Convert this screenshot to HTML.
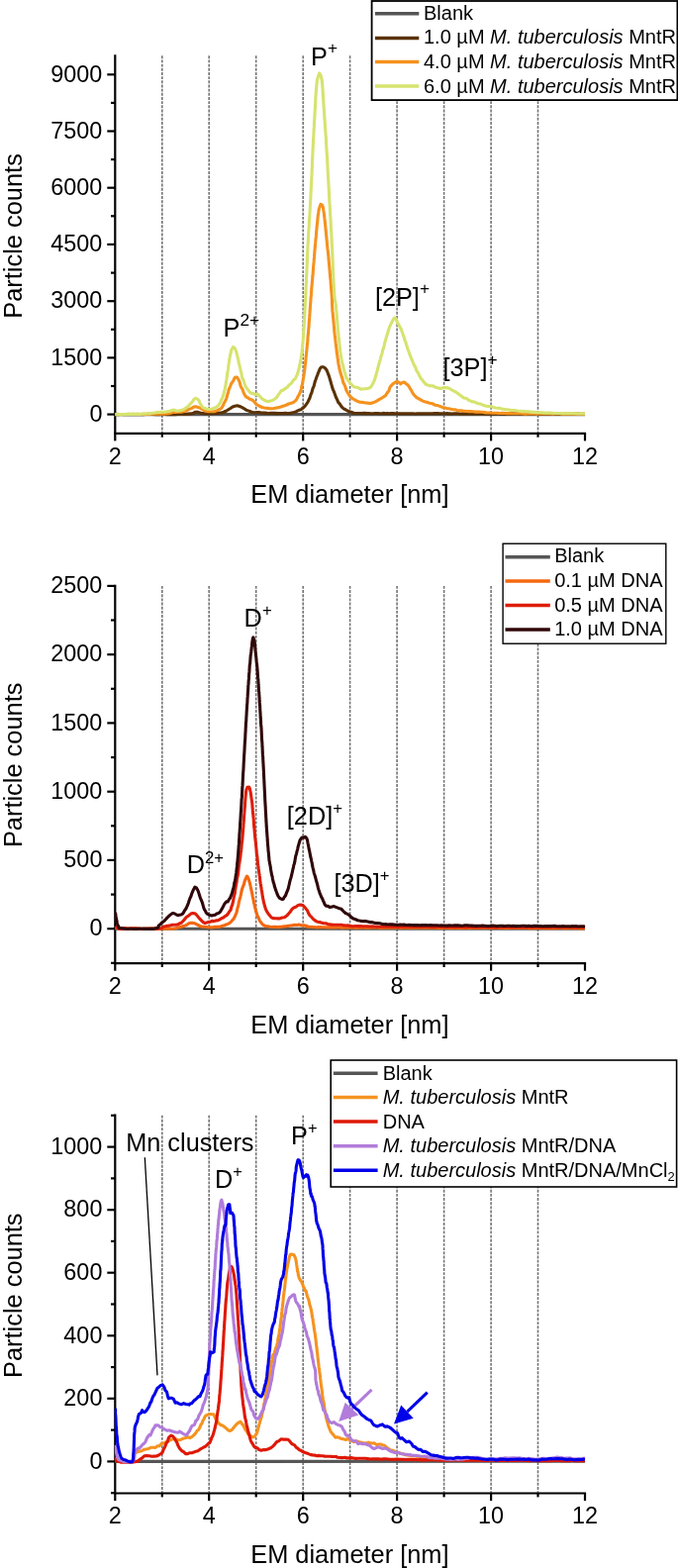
<!DOCTYPE html>
<html lang="en"><head><meta charset="utf-8"><title>nES GEMMA spectra</title>
<style>html,body{margin:0;padding:0;background:#fff}svg{display:block}text{font-family:'Liberation Sans', sans-serif;fill:#000}</style>
</head><body>
<svg width="685" height="1584" viewBox="0 0 685 1584">
<rect width="685" height="1584" fill="#fff"/>
<line x1="163.8" y1="56.3" x2="163.8" y2="437.8" stroke="#747474" stroke-width="1.6" stroke-dasharray="2.9 1.27"/>
<line x1="211.2" y1="56.3" x2="211.2" y2="437.8" stroke="#747474" stroke-width="1.6" stroke-dasharray="2.9 1.27"/>
<line x1="258.7" y1="56.3" x2="258.7" y2="437.8" stroke="#747474" stroke-width="1.6" stroke-dasharray="2.9 1.27"/>
<line x1="306.2" y1="56.3" x2="306.2" y2="437.8" stroke="#747474" stroke-width="1.6" stroke-dasharray="2.9 1.27"/>
<line x1="353.6" y1="56.3" x2="353.6" y2="437.8" stroke="#747474" stroke-width="1.6" stroke-dasharray="2.9 1.27"/>
<line x1="401.1" y1="56.3" x2="401.1" y2="437.8" stroke="#747474" stroke-width="1.6" stroke-dasharray="2.9 1.27"/>
<line x1="448.6" y1="56.3" x2="448.6" y2="437.8" stroke="#747474" stroke-width="1.6" stroke-dasharray="2.9 1.27"/>
<line x1="496.1" y1="56.3" x2="496.1" y2="437.8" stroke="#747474" stroke-width="1.6" stroke-dasharray="2.9 1.27"/>
<line x1="543.5" y1="56.3" x2="543.5" y2="437.8" stroke="#747474" stroke-width="1.6" stroke-dasharray="2.9 1.27"/>
<g stroke="#000" stroke-width="2.2" fill="none">
<line x1="116.3" y1="55.2" x2="116.3" y2="438.9"/>
<line x1="115.2" y1="437.8" x2="592.1" y2="437.8"/>
<line x1="108.3" y1="418.6" x2="116.3" y2="418.6"/>
<line x1="108.3" y1="361.4" x2="116.3" y2="361.4"/>
<line x1="108.3" y1="304.2" x2="116.3" y2="304.2"/>
<line x1="108.3" y1="246.9" x2="116.3" y2="246.9"/>
<line x1="108.3" y1="189.7" x2="116.3" y2="189.7"/>
<line x1="108.3" y1="132.5" x2="116.3" y2="132.5"/>
<line x1="108.3" y1="75.3" x2="116.3" y2="75.3"/>
<line x1="112" y1="390" x2="116.3" y2="390"/>
<line x1="112" y1="332.8" x2="116.3" y2="332.8"/>
<line x1="112" y1="275.6" x2="116.3" y2="275.6"/>
<line x1="112" y1="218.3" x2="116.3" y2="218.3"/>
<line x1="112" y1="161.1" x2="116.3" y2="161.1"/>
<line x1="112" y1="103.9" x2="116.3" y2="103.9"/>
<line x1="116.3" y1="437.8" x2="116.3" y2="445.4"/>
<line x1="163.8" y1="437.8" x2="163.8" y2="441.7"/>
<line x1="211.2" y1="437.8" x2="211.2" y2="445.4"/>
<line x1="258.7" y1="437.8" x2="258.7" y2="441.7"/>
<line x1="306.2" y1="437.8" x2="306.2" y2="445.4"/>
<line x1="353.6" y1="437.8" x2="353.6" y2="441.7"/>
<line x1="401.1" y1="437.8" x2="401.1" y2="445.4"/>
<line x1="448.6" y1="437.8" x2="448.6" y2="441.7"/>
<line x1="496.1" y1="437.8" x2="496.1" y2="445.4"/>
<line x1="543.5" y1="437.8" x2="543.5" y2="441.7"/>
<line x1="591" y1="437.8" x2="591" y2="445.4"/>
</g>
<clipPath id="cp1"><rect x="115.8" y="54.3" width="477" height="383.5"/></clipPath>
<g clip-path="url(#cp1)">
<path d="M116.3 418.6 L591 418.6" fill="none" stroke="#555555" stroke-width="3.1" stroke-linejoin="round" stroke-linecap="butt"/>
<path d="M116.3 418.6 117.4 418.6 118.6 418.6 120 418.6 121.6 418.5 123.2 418.5 125 418.7 126.9 418.7 128.9 418.7 130.9 418.6 133.1 418.6 135.3 418.6 137.6 418.5 140 418.6 142.4 418.7 144.8 418.6 147.3 418.5 149.7 418.4 152.2 418.5 154.7 418.5 157.2 418.6 159.7 418.6 162.1 418.6 164.5 418.5 166.8 418.5 169.1 418.6 171.3 418.5 173.5 418.6 175.6 418.6 177.6 418.6 179.4 418.4 181.2 418.3 182.9 418.3 184.4 418.3 185.8 418.4 187 418.3 193 417.9 195.7 417.3 196.4 416.8 196.6 416.5 197.6 416.2 199.6 416.3 201.3 416.8 203.2 417.2 205.8 417.6 207.5 417.8 209.5 417.5 211.7 417.6 214 417.6 216.3 417.5 218.5 417.5 220.5 417.4 222.1 417 224.5 416.8 226.2 416.2 227.6 415.5 229.1 414.8 231.2 413.5 233.2 412.2 235 410.9 237.3 410.2 239.6 409.8 241.4 410.3 243.4 411 245.5 412.1 247.1 413 248.8 414.3 250.6 414.9 252.5 415.5 254.2 416.2 256.1 416.6 258 416.7 260 416.6 261.8 416.6 263.7 417 265.4 417.1 267.3 417.1 270 417.4 271.6 417.5 273.6 417.4 275.7 417.4 277.9 417.4 280.2 417.6 282.5 417.5 284.6 417.5 286.4 417.5 288 417.3 290.6 417.5 292.3 417.5 293.6 417.4 295 416.9 297.1 416.4 299 415.9 300.8 414.9 302.4 414.3 304 413.8 305.5 412.4 306.7 411.7 307.9 410.5 309.1 408.9 310.2 407.4 311.2 405.8 312 403.9 312.9 402.2 313.7 399.6 314.3 397.9 314.9 396.7 315.4 394.8 316 392.5 316.6 391.2 317.2 389.8 317.8 387.4 318.4 385 319 383.5 319.6 381.8 320.2 380.1 320.7 379.1 321.5 376.5 322.2 375.3 322.9 373.2 323.6 371.9 324.9 370.8 326.3 370.7 327.9 371.4 329.5 373.1 330.2 374.3 330.9 375.9 331.6 377.9 332.4 379.9 332.9 381.7 333.5 383.7 334.1 385.6 334.7 387.9 335.3 389.9 335.9 392.2 336.6 393.9 337.3 395.4 338 397.2 338.7 399.2 339.4 401.2 340.3 402.9 341.1 404.8 342 406.9 342.9 407.5 344 409.1 345.1 410.8 346.4 412.1 347.8 413.2 349.4 414 351.1 415 352.9 415.7 354.7 416.2 356.9 416.9 357 417.1 356.1 417.1 357.6 417.3 365.1 417.5 366.2 417.5 367.4 417.3 368.7 417.4 370 417.6 371.3 417.5 372.7 417.5 374.2 417.7 375.7 417.7 377.2 417.8 378.8 417.5 380.4 417.5 382.1 417.6 383.9 417.7 385.6 417.8 387.5 417.4 389.3 417.7 391.2 417.5 393.2 417.7 395.2 417.5 397.2 417.6 399.2 417.8 401.4 417.7 403.5 417.7 405.7 417.8 407.9 417.7 410.1 417.7 412.4 417.8 414.7 417.8 417 417.7 419.4 418 421.8 417.7 424.3 417.8 426.7 417.7 429.2 417.7 431.7 417.8 434.3 417.8 436.8 417.8 439.4 417.6 442 417.6 444.7 417.8 447.3 417.7 450 417.7 451.6 417.6 453.3 417.9 455 417.9 456.7 418 458.5 417.8 460.4 417.8 462.3 417.7 464.2 417.9 466.2 418 468.1 417.8 470.2 418 472.2 418 474.3 417.9 476.4 417.7 478.6 418 480.8 418 482.9 417.9 485.2 418 487.4 418 489.7 418.1 491.9 417.9 494.2 418.1 496.5 418.2 498.8 418.2 501.2 418 503.5 417.9 505.8 418.1 508.2 418.1 510.5 418.1 512.9 418.2 515.2 418.1 517.6 417.9 520 418 522.3 417.9 524.6 418.1 527 418.2 529.3 418.1 531.6 418.1 533.9 418.2 536.2 418.2 538.5 418.3 540.7 418.2 543 418.3 545.2 418.4 547.4 418.4 549.5 418.2 551.7 418.3 553.8 418.1 555.9 418.1 557.9 418.1 559.9 418.3 561.9 418.2 563.9 418.2 565.8 418.3 567.7 418.3 569.5 418.3 571.3 418.3 573 418.5 574.7 418.4 576.4 418.4 578 418.4 579.5 418.4 581.1 418.2 582.5 418.3 583.9 418.4 585.2 418.3 586.5 418.3 587.7 418.5 588.9 418.5 590 418.4 591 418.4" fill="none" stroke="#5a3205" stroke-width="3.1" stroke-linejoin="round" stroke-linecap="butt"/>
<path d="M116.3 418.6 117.4 418.5 118.7 418.4 120.2 418.5 121.9 418.6 123.7 418.5 125.7 418.5 127.7 418.5 129.9 418.4 132.2 418.5 134.5 418.4 136.9 418.5 139.3 418.3 141.7 418.5 144.1 418.4 146.5 418.3 148.8 418.5 151.1 418.4 153.2 418.2 155.3 418.2 157.3 418.3 159.2 418.3 160.8 418.3 162.4 418.3 163.7 418.3 167.7 418 170.3 417.8 171.9 417.5 173 417.1 174 416.5 175.4 416.5 177.4 416.5 179.4 416.3 181.3 416.1 183 416.3 184.7 415.7 186.7 415.2 188.5 414.9 190.2 413.7 191.8 413.1 193.8 412.4 195.7 411.1 197.6 410.7 199.5 411.2 201.4 411.9 203.4 412.9 205.1 413.8 206.8 414.7 208.6 415.4 210.4 415.8 212.2 415.8 214 415.8 215.8 415.8 217.5 415.4 219.6 414.6 221.5 413.6 223.3 412.7 224.3 411.5 225.3 409.9 226.2 407.5 227.1 406.1 228 404.3 228.7 402.9 229.3 400.7 229.9 398.3 230.6 396.2 231.2 393.3 231.9 392 232.6 390.3 233.6 387.7 234.7 386.1 235.8 384.6 236.9 382.1 237.8 381 239.4 381.1 240.8 383.2 241.4 384.4 242.1 386 242.8 389 243.5 391.1 244.3 392.1 245.1 393.6 246 396.4 246.9 398.2 247.9 399.9 249 401.1 250.7 401.9 252.5 403.2 254.4 403.7 256 404.9 257.4 406.6 258.6 408.1 260 409 261.5 409.8 263.2 410.8 265 411.5 267 412 268.7 412.3 270.6 412.4 272.5 412.7 274.5 412.7 276.4 412.5 278.3 412.2 280.1 411.9 282 411.4 283.8 410.9 285.7 410.3 287.6 409.7 289.6 409 291.6 408 293.4 407.5 295 407.1 296.9 406.1 298.3 405 299.7 403.4 300.5 401.8 301.3 400 302.1 399 302.9 397 303.7 395.4 304.4 392.5 304.8 390.3 305.1 389.2 305.4 388.6 305.8 386.6 306.1 384.3 306.4 382.5 306.7 381 307 379.1 307.3 376.7 307.6 374.8 307.9 372.2 308.1 370.3 308.3 368.7 308.5 367.4 308.7 365.5 308.9 363.6 309.1 361 309.3 359.1 309.5 357.5 309.7 355.2 309.9 353.5 310.1 351.4 310.3 349.4 310.5 347 310.7 345.7 310.9 343.5 311 340.8 311.2 338.7 311.4 337.6 311.6 334.9 311.7 332.9 311.9 331.1 312.1 328.7 312.2 326.2 312.4 324.5 312.5 322.6 312.7 320.9 312.8 318.8 313 316.4 313.1 314.5 313.3 312.5 313.4 310.3 313.6 308.1 313.7 306 313.9 304.2 314 301.7 314.2 299.7 314.4 297.9 314.5 295.5 314.7 293.6 314.8 291.2 315 289.5 315.2 288 315.3 286.1 315.5 283.9 315.7 281.8 315.8 279.4 316 278.3 316.2 276.3 316.3 274.4 316.5 271.8 316.6 269.9 316.8 267.6 316.9 266.4 317.1 264.9 317.3 261.8 317.5 259.9 317.6 258.2 317.8 255.3 318 252.9 318.2 251.1 318.3 249.3 318.5 247 318.7 245.4 318.8 243.7 319 241.9 319.2 240 319.4 238.4 319.5 236.6 319.7 233.9 319.9 231.6 320.1 229.3 320.4 226.9 320.6 225 320.8 223 321 221 321.2 218.3 321.5 216.3 321.7 215 321.9 213.4 322.2 211.9 322.4 210.7 324 206.4 325.5 207.2 325.9 208.1 326.3 209.2 326.6 210.7 326.9 213 327.3 214.9 327.7 218.5 327.9 220.5 328.1 221.8 328.3 224 328.5 226.1 328.7 227.7 328.9 230 329.1 232.3 329.4 234.8 329.6 237.2 329.8 239.2 330 241.1 330.2 243.4 330.4 245.6 330.6 247.8 330.8 249.6 331 251.5 331.3 253.4 331.5 255.7 331.7 257.7 331.9 259.5 332 261.7 332.2 263.6 332.4 265.7 332.6 267.9 332.8 269.8 333 272.8 333.2 274.1 333.3 276.3 333.5 278.2 333.7 280.5 333.9 281.6 334.1 283.9 334.2 286.6 334.4 289 334.6 291.7 334.8 293.3 334.9 295.4 335.1 297.1 335.2 298.8 335.3 300.3 335.4 302.5 335.5 304.4 335.5 305.3 335.5 307.2 335.6 308.2 335.7 310.4 335.9 314.1 336 315 336.2 316.4 336.3 318.5 336.5 320.1 336.7 321.6 336.9 323.9 337.1 326.2 337.3 328.4 337.5 330.1 337.7 333 337.9 335.4 338.1 337 338.3 339 338.6 340.9 338.8 343.4 339 344.8 339.2 346.9 339.4 348.3 339.7 350.5 340 353.2 340.2 355.8 340.5 357.5 340.8 359.1 341.1 361.5 341.4 363.2 341.6 365.1 341.9 367.3 342.2 369 342.6 370.1 342.9 372.5 343.4 374.5 344 376.8 344.6 378.6 345.2 380.7 345.8 382.1 346.4 385 347 387.1 347.6 387.8 348.4 389.6 349.1 391.5 349.9 394.2 350.7 395.7 351.5 397.1 352.3 398.5 353.6 400.3 354.9 401.4 356.4 402.9 358.1 403.6 359.7 404.6 361.6 405.5 363.5 406.2 365.5 406.4 367.4 406.6 369.3 407 371.3 407.1 373.2 407.5 375.1 407.4 376.8 406.8 378.7 406.1 380.5 405.2 382.1 404.1 383.8 403.1 385.2 402.4 386.7 401.5 388.2 400.4 389.5 399.6 390.8 397.5 391.9 395.9 392.8 395.1 393.7 392.1 394.5 390.3 395.5 389.3 396.9 387.9 398.5 386.8 400 385.7 401.3 385.4 403.2 386.3 404.8 387.9 406.5 386.4 408.3 386 409.8 387.2 411.4 388.4 413.1 390.2 414.2 392.3 415.3 393.9 416.5 396.2 417.7 398.2 419 399.7 420.6 401.3 422.3 402.5 424.1 403.2 426.3 404.6 428 405.5 429.9 405.9 431.9 406.5 433.9 407.2 436 407.5 438 408.3 439.9 409.3 441.8 409.5 443.6 410.1 445.5 410.8 447.5 411.7 449.6 412.1 451.5 412.6 453.5 412.8 455.5 413.3 457.6 413.7 459.7 413.8 461.9 414.5 464.2 414.9 466 414.7 467.9 415.1 469.7 415.3 471.7 415.5 473.6 415.6 475.6 415.5 477.6 415.7 479.7 416.1 481.8 416.1 483.7 416.1 485.6 416.2 487.4 416.3 489.3 416.6 491.3 416.9 493.3 417 495.3 417 497.5 417.3 499.8 417.2 502.2 417.2 503.8 417.4 505.4 417.5 507 417.4 508.6 417.4 510.2 417.5 511.8 417.6 513.5 417.5 515.2 417.6 517.1 417.7 519.1 417.8 521.2 417.8 523.5 417.8 525.9 417.8 528.6 418 531.4 418.1 532.9 417.9 534.6 418 536.4 417.9 538.3 417.9 540.3 418 542.3 418.1 544.5 418 546.7 418 548.9 418 551.2 417.9 553.6 418 555.9 418 558.3 418.1 560.7 418 563 417.9 565.4 418 567.7 418.1 570 418.1 572.2 418.2 574.4 418.1 576.5 418.1 578.6 418.2 580.5 418 582.4 418.1 584.2 418.1 585.8 418.3 587.3 418.2 588.7 418.2 589.9 418.1 591 418.2" fill="none" stroke="#f5921e" stroke-width="3.1" stroke-linejoin="round" stroke-linecap="butt"/>
<path d="M116.3 418.6 117.5 418.6 119 418.7 120.7 418.6 122.7 418.5 124.8 418.5 127.1 418.6 129.5 418.4 131.9 418.2 134.3 418.4 136.7 418.4 139 418.4 141.2 418.5 143.2 418.3 145 418.1 147.6 418 150 417.8 152.4 417.7 154.6 417.2 156.7 417 158.6 416.4 160.4 416.5 162.1 416.4 163.7 416.3 166.6 416.2 168.8 415.8 170.4 415.5 171.9 415.2 173.9 414.4 175.4 414 177 414.7 178.9 415.1 180.7 415 182.7 414.6 184.7 414 186.1 413.3 187.6 412.3 189 411.3 190.6 409.9 192 408.2 193.5 406.8 195 404.9 196.4 402.9 197.6 402.4 199.6 403.1 201.1 404.9 202.2 407.4 203.3 409.5 204.6 411.3 206.4 412.3 208.4 413 210.4 413.2 212.4 413.5 214.3 413.1 216.3 412.3 217.8 411.6 219.3 410.7 220.7 409.6 222.1 407.6 222.8 406.2 223.6 404.2 224.3 402.7 224.9 401.4 225.6 399.7 226.2 397.1 226.8 394.6 227.2 393.6 227.5 391.4 227.9 389.6 228.2 388.1 228.5 385.6 228.9 383.7 229.2 381.1 229.5 379.2 229.8 377.3 230 375.5 230.3 374.1 230.6 372.4 230.9 369.4 231.2 367 231.5 365.4 231.8 363.1 232 361.7 232.3 360.2 232.6 358.5 233.3 356 233.9 353.1 234.7 352.1 235.4 350.7 236.9 351.3 238.5 354.7 239 356.3 239.5 358.5 240 360.5 240.5 362.4 241 364.9 241.5 367.6 242 369.3 242.5 371.3 243 373.7 243.4 375.5 243.9 376.9 244.4 380.1 244.9 382.3 245.5 382.7 246.2 384.9 246.9 387.2 247.7 389.3 248.5 391 249.3 392.2 250.2 393.2 251.6 395.2 253.1 396.9 254.7 397.3 256 397.8 258.1 398.4 260 397.9 261.5 399.4 263.1 401 264.7 402.7 266.2 403.7 267.7 404.6 269.3 405.4 271.2 405.6 273.3 405.1 275.2 404.4 276.9 403.6 278.4 402.3 279.9 401 281.4 398.5 282.9 396.6 284.5 394.2 285.9 394.4 287.3 393.1 288.8 392.1 290.4 391.1 291.8 389.2 293.3 388.1 294.8 386.6 296.2 384.3 297.4 383.3 298.5 382.3 299.4 380 300.1 378.9 300.9 376.6 301.3 375 301.8 373.3 302.3 371.8 302.7 369.3 303.2 367.4 303.6 364.9 304 362.7 304.4 359.9 304.6 358.3 304.9 357.3 305.1 355.4 305.3 353.3 305.5 351.1 305.6 349.3 305.8 347.7 306 346.1 306.2 343.9 306.3 341.7 306.5 339.2 306.7 337.2 306.8 335 306.9 333.1 307 331.8 307.2 330 307.3 328 307.4 326 307.5 324.2 307.6 322.7 307.7 320.7 307.8 318.1 307.9 316.5 308 314.4 308.1 311.8 308.2 310 308.3 307.5 308.4 304.9 308.6 302.8 308.7 300.5 308.8 298.2 308.9 296.7 309 294.6 309 293.7 309.1 291.2 309.2 289.5 309.3 287.1 309.4 285.3 309.5 283.9 309.6 280.4 309.7 278.5 309.8 276.9 309.9 274.7 310 272.3 310.1 271 310.2 268.5 310.3 265.5 310.4 264 310.4 261.3 310.5 259.8 310.6 257.5 310.7 255.4 310.8 253.8 310.9 251.5 311 248.9 311.1 246.7 311.2 245.7 311.3 244 311.4 241.6 311.5 239.8 311.6 237.7 311.7 235.6 311.9 232.6 312 231 312.1 229.7 312.2 227.9 312.3 226 312.4 223.1 312.5 221.8 312.6 220.3 312.7 219.3 312.9 216.5 313 214.5 313.1 212.8 313.2 211.2 313.3 209 313.4 207.4 313.5 204.9 313.6 203 313.8 200.7 313.9 198.7 314 196.2 314.1 194 314.2 193 314.3 191.1 314.4 188.8 314.5 187 314.6 185.4 314.7 182.8 314.8 180.8 314.9 179 315 177 315.1 174.6 315.2 171.8 315.3 170.6 315.4 168.5 315.4 166.1 315.5 163.9 315.6 161.9 315.7 159.6 315.8 157.2 315.9 155.1 316 153.1 316.1 151 316.2 148.8 316.3 147.3 316.4 144.8 316.5 143.3 316.6 141 316.7 139.4 316.8 138.1 316.9 136 317 133.3 317.1 131.1 317.3 128.9 317.4 126 317.5 123.9 317.6 122 317.8 119.6 317.9 117.5 318 115.5 318.1 113.4 318.2 111.4 318.4 109.2 318.5 106.8 318.6 104.8 318.7 102.9 318.8 101 318.9 99.2 319 97 319.1 95.6 319.2 94.4 319.3 92.6 319.4 91.5 319.5 90.5 319.9 85.9 320.1 84 320.4 81.2 320.6 80.6 320.9 79.1 321.4 77.2 322 76.1 322.7 73.9 323.3 74.6 323.9 76.1 324.6 77.9 325.2 81.4 325.4 81.9 325.5 84 325.7 85.8 325.8 87.3 325.9 88.8 326.1 91.1 326.2 92.9 326.3 95.2 326.5 97.4 326.6 99.2 326.8 102.4 327 105.6 327.1 107.3 327.2 108.5 327.3 110.3 327.5 112.3 327.6 114.1 327.7 116.3 327.8 118.6 328 119.6 328.1 121 328.2 123.8 328.4 126.4 328.5 128.4 328.7 130.4 328.8 132 328.9 134 329.1 136.6 329.2 138.3 329.4 139.9 329.5 142.2 329.6 145.5 329.8 147.8 329.9 148.9 330 150.6 330.1 152.9 330.2 154.6 330.4 157.2 330.5 158.9 330.6 160.4 330.7 163.1 330.8 164.7 330.9 166.7 331 168.7 331.1 170.6 331.2 172.7 331.3 174.4 331.4 175.9 331.5 177.6 331.6 179.9 331.7 182.2 331.9 184.4 332 186.5 332.1 188.7 332.2 190.6 332.3 192.2 332.4 194.1 332.5 195.6 332.6 198.1 332.7 200.5 332.8 202.5 332.9 204.2 333.1 206.1 333.2 208.4 333.3 210.1 333.4 212.1 333.5 214.1 333.6 215.9 333.7 218.1 333.9 219.5 334 221.3 334.1 223.2 334.2 225.1 334.3 227.8 334.4 230.2 334.5 231.6 334.7 233.6 334.8 236 334.9 238 335 240.2 335.1 241.5 335.2 243.3 335.3 245.7 335.4 248.1 335.5 249.8 335.6 251.4 335.7 253.6 335.8 255.8 335.9 257.8 336 260.8 336.1 262.6 336.2 264.8 336.3 267.8 336.4 269.9 336.4 271.7 336.5 273.5 336.6 275.8 336.7 278.5 336.8 280.3 336.9 282.4 337 284 337.1 285.9 337.2 287.5 337.3 289.3 337.4 291.3 337.4 292 337.5 293.5 337.6 295.1 337.9 298.7 338.1 301.2 338.4 303.1 338.6 304.7 338.9 305.3 339.1 306.5 339.4 308.2 339.6 310.7 339.7 312.2 339.9 313.8 340 315.4 340.2 317.7 340.4 319.6 340.5 322 340.7 324.4 340.9 326.5 341.1 328.7 341.2 330.5 341.4 333.2 341.6 334.7 341.8 336 342 338.6 342.2 340.7 342.5 342.6 342.7 344.9 342.9 347.2 343.1 348.8 343.3 350.9 343.6 353.5 343.8 355.2 344.1 356.7 344.3 358.4 344.6 360.1 345 362.5 345.5 365.1 345.9 367.1 346.4 368.3 346.9 370.8 347.3 372.7 347.8 374.9 348.3 376.3 349.1 378.8 349.8 381.6 350.6 382.6 351.5 383.8 352.3 385.2 353.6 386.8 355 388.3 356.9 390.3 358.5 391 360.4 391.2 362.4 391.9 364.4 393.1 366.3 393 368.5 392.8 370.7 392.6 372.7 392.2 374.5 391.2 375.6 389.7 376.5 387.9 377.3 386.1 378.2 384.4 379.1 381.8 379.6 379.7 380.1 378.1 380.6 376.4 381.2 374.4 381.7 372.2 382.3 369.8 382.8 367.9 383.4 365.6 383.9 364.3 384.5 362.4 385 359.8 385.5 358.5 386.1 356.6 386.6 353.6 387.2 352.5 387.7 350.6 388.2 348.9 388.8 346 389.3 344.3 389.8 342.6 390.3 340.8 390.8 339.2 391.5 337.1 392.3 334.2 393 332 393.6 330.1 394.3 328.7 394.9 327.3 395.5 326.3 396.8 323.6 397.9 321.7 399 320.9 399.9 321.6 400.8 323.8 401.6 325.9 402.5 327.5 403.2 328.5 403.9 330.1 404.7 331.1 405.8 334 406.3 335.6 406.8 336.6 407.3 338.5 407.9 339.8 408.6 342.3 409.2 344.2 409.9 345.6 410.5 348.2 411.2 349.9 411.8 352.5 412.5 353.9 413.1 355.6 413.9 358 414.7 359.9 415.6 362.2 416.4 364 417.3 366.3 418.1 368.1 418.9 370 419.7 370.7 420.4 373.3 421.5 375.5 422.5 376.7 423.4 378.9 424.4 380.8 425.3 382.5 426.3 383.2 427.7 385.5 429 386.7 430.4 388.5 432.1 388.9 433.7 389.6 435.5 389.8 437.5 389.9 439.3 390.9 440.9 391.4 443.1 392.1 444.9 392.4 446.7 392.1 448.6 391.5 450.5 391.6 452.6 391.9 454.3 392.4 456.1 393.7 457.9 394.8 459.9 395.6 461.5 396.8 463.2 397.9 464.9 399.2 466.7 400.6 468.6 401.9 470.2 402.2 471.8 402.7 473.5 404.3 475.2 404.9 477 405.8 478.8 405.9 480.6 406.6 482.5 407.5 484.4 407.7 486.3 408.4 488.4 409.3 490.5 410 492.4 410.5 494.4 410.5 496.4 410.7 498.5 411.4 500.6 412 502.8 412.3 505.1 412.4 506.9 412.9 508.7 413.3 510.5 413.6 512.4 413.7 514.3 414 516.2 414.4 518.3 414.5 520.4 414.5 522.6 415 524.3 415.2 526.2 415.4 528 415.6 530 415.6 531.9 415.8 533.9 415.9 536 416.1 538 416.4 540 416.4 542 416.7 544 416.8 546 416.8 548 416.9 549.9 417.1 551.9 417 553.8 417.1 555.8 417 557.8 417.2 559.7 417.5 561.7 417.5 563.6 417.5 565.5 417.5 567.4 417.6 569.3 417.5 571.4 417.7 573.6 417.7 575.9 417.6 578.2 417.7 580.5 417.7 582.7 417.9 584.8 418 586.7 417.8 588.4 417.9 589.8 418 591 417.9" fill="none" stroke="#d6e36e" stroke-width="3.1" stroke-linejoin="round" stroke-linecap="butt"/>
</g>
<g font-size="23.4" text-anchor="end">
<text x="103.4" y="425.8">0</text>
<text x="103.4" y="368.6">1500</text>
<text x="103.4" y="311.4">3000</text>
<text x="103.4" y="254.1">4500</text>
<text x="103.4" y="196.9">6000</text>
<text x="103.4" y="139.7">7500</text>
<text x="103.4" y="82.5">9000</text>
</g>
<g font-size="23.4" text-anchor="middle">
<text x="116.3" y="468.5">2</text>
<text x="211.2" y="468.5">4</text>
<text x="306.2" y="468.5">6</text>
<text x="401.1" y="468.5">8</text>
<text x="496.1" y="468.5">10</text>
<text x="591" y="468.5">12</text>
</g>
<text x="353.4" y="508.2" font-size="25.4" text-anchor="middle">EM diameter [nm]</text>
<text transform="translate(21.8 321.7) rotate(-90)" font-size="25.4">Particle counts</text>
<text x="314.1" y="65.5" font-size="25.3">P<tspan font-size="17.3" dy="-11.1">+</tspan></text>
<text x="225.6" y="339.7" font-size="25.3">P<tspan font-size="17.3" dy="-11.1">2+</tspan></text>
<text x="378.9" y="308.5" font-size="25.3">[2P]<tspan font-size="17.3" dy="-11.1">+</tspan></text>
<text x="447.5" y="379.8" font-size="25.3">[3P]<tspan font-size="17.3" dy="-11.1">+</tspan></text>
<rect x="375.6" y="1" width="308.8" height="100.1" fill="#fff" stroke="#000" stroke-width="1.8"/>
<line x1="378.9" y1="13.8" x2="423.3" y2="13.8" stroke="#555555" stroke-width="3.5"/>
<text x="428" y="19.9" font-size="20">Blank</text>
<line x1="378.9" y1="38.4" x2="423.3" y2="38.4" stroke="#5a3205" stroke-width="3.5"/>
<text x="428" y="44.4" font-size="20">1.0 µM <tspan font-style="italic">M. tuberculosis</tspan> MntR</text>
<line x1="378.9" y1="62.4" x2="423.3" y2="62.4" stroke="#f5921e" stroke-width="3.5"/>
<text x="428" y="68.9" font-size="20">4.0 µM <tspan font-style="italic">M. tuberculosis</tspan> MntR</text>
<line x1="378.9" y1="87" x2="423.3" y2="87" stroke="#d6e36e" stroke-width="3.5"/>
<text x="428" y="93.8" font-size="20">6.0 µM <tspan font-style="italic">M. tuberculosis</tspan> MntR</text>
<line x1="163.8" y1="591.9" x2="163.8" y2="973.1" stroke="#747474" stroke-width="1.6" stroke-dasharray="2.9 1.27"/>
<line x1="211.2" y1="591.9" x2="211.2" y2="973.1" stroke="#747474" stroke-width="1.6" stroke-dasharray="2.9 1.27"/>
<line x1="258.7" y1="591.9" x2="258.7" y2="973.1" stroke="#747474" stroke-width="1.6" stroke-dasharray="2.9 1.27"/>
<line x1="306.2" y1="591.9" x2="306.2" y2="973.1" stroke="#747474" stroke-width="1.6" stroke-dasharray="2.9 1.27"/>
<line x1="353.6" y1="591.9" x2="353.6" y2="973.1" stroke="#747474" stroke-width="1.6" stroke-dasharray="2.9 1.27"/>
<line x1="401.1" y1="591.9" x2="401.1" y2="973.1" stroke="#747474" stroke-width="1.6" stroke-dasharray="2.9 1.27"/>
<line x1="448.6" y1="591.9" x2="448.6" y2="973.1" stroke="#747474" stroke-width="1.6" stroke-dasharray="2.9 1.27"/>
<line x1="496.1" y1="591.9" x2="496.1" y2="973.1" stroke="#747474" stroke-width="1.6" stroke-dasharray="2.9 1.27"/>
<line x1="543.5" y1="591.9" x2="543.5" y2="973.1" stroke="#747474" stroke-width="1.6" stroke-dasharray="2.9 1.27"/>
<g stroke="#000" stroke-width="2.2" fill="none">
<line x1="116.3" y1="590.8" x2="116.3" y2="974.2"/>
<line x1="115.2" y1="973.1" x2="592.1" y2="973.1"/>
<line x1="108.3" y1="938.2" x2="116.3" y2="938.2"/>
<line x1="108.3" y1="868.9" x2="116.3" y2="868.9"/>
<line x1="108.3" y1="799.7" x2="116.3" y2="799.7"/>
<line x1="108.3" y1="730.4" x2="116.3" y2="730.4"/>
<line x1="108.3" y1="661.2" x2="116.3" y2="661.2"/>
<line x1="108.3" y1="591.9" x2="116.3" y2="591.9"/>
<line x1="112" y1="972.8" x2="116.3" y2="972.8"/>
<line x1="112" y1="903.6" x2="116.3" y2="903.6"/>
<line x1="112" y1="834.3" x2="116.3" y2="834.3"/>
<line x1="112" y1="765.1" x2="116.3" y2="765.1"/>
<line x1="112" y1="695.8" x2="116.3" y2="695.8"/>
<line x1="112" y1="626.5" x2="116.3" y2="626.5"/>
<line x1="116.3" y1="973.1" x2="116.3" y2="980.7"/>
<line x1="163.8" y1="973.1" x2="163.8" y2="977"/>
<line x1="211.2" y1="973.1" x2="211.2" y2="980.7"/>
<line x1="258.7" y1="973.1" x2="258.7" y2="977"/>
<line x1="306.2" y1="973.1" x2="306.2" y2="980.7"/>
<line x1="353.6" y1="973.1" x2="353.6" y2="977"/>
<line x1="401.1" y1="973.1" x2="401.1" y2="980.7"/>
<line x1="448.6" y1="973.1" x2="448.6" y2="977"/>
<line x1="496.1" y1="973.1" x2="496.1" y2="980.7"/>
<line x1="543.5" y1="973.1" x2="543.5" y2="977"/>
<line x1="591" y1="973.1" x2="591" y2="980.7"/>
</g>
<clipPath id="cp2"><rect x="115.8" y="589.9" width="477" height="383.2"/></clipPath>
<g clip-path="url(#cp2)">
<path d="M116.3 938.2 L591 938.2" fill="none" stroke="#555555" stroke-width="3.1" stroke-linejoin="round" stroke-linecap="butt"/>
<path d="M116.5 937 119 937.9 120.2 937.9 121.5 938.1 123 938 124.7 937.9 126.6 938.1 128.5 938 130.6 938.2 132.8 938.1 135.1 938.1 137.4 938.1 139.8 938.1 142.2 938.3 144.7 938.3 147.1 938.3 149.6 938.3 152 938.1 154.4 938.1 156.7 938.1 158.9 938.1 161.1 938.2 163.1 938.1 165.1 938.1 166.9 938 168.5 937.9 170 938.1 171.3 938.3 176.1 938 178.6 937.5 179.7 936.9 180.3 936.8 181.5 936.7 183.6 936 185.5 935.4 187.2 934.9 188.7 934.3 190.9 932.8 192.8 932.2 194.8 932.4 196.9 932.8 198.4 933.6 200 934.5 202 935.5 203.8 936.1 205.7 936.2 207.8 936.3 210.1 936.8 212.1 936.8 214.2 936.9 216.3 936.4 218.4 936.4 220.4 936.4 222.6 936.1 224.7 935.3 226.7 934.7 228.5 934 230.2 933.4 231.8 932.6 233.3 931.4 234.7 929.6 235.7 928.7 236.5 927.2 237.3 925.9 238 924.1 238.8 922.3 239.3 920.7 239.8 918.1 240.3 916.2 240.8 914.7 241.3 911.7 241.8 909.6 242.3 907.9 242.8 906.1 243.4 903.6 244 900.4 244.6 898 245.2 896.4 245.8 894.7 246.4 893.8 246.9 891.1 247.8 888.6 248.6 886.9 249.4 885.2 250.3 886 251.3 888.6 252.3 891.8 252.7 893.3 253.1 895.3 253.5 896.8 253.9 899.2 254.4 901 254.8 903.1 255.2 905.6 255.7 907.4 256.1 909.4 256.6 912.1 257 913.7 257.4 915.4 257.9 917.6 258.3 919.2 258.8 921.4 259.3 922.3 259.8 924.3 260.7 926.3 261.6 928.1 262.6 930.5 263.6 931.6 264.7 933.2 266.4 934.6 268.3 935.6 271 935.8 272.6 936.2 274.5 936.5 276.5 936.4 278.6 936.3 280.8 936.6 282.8 936.4 284.6 936.2 286.9 935.9 288.9 935.7 290.9 935.4 292.7 935 294.5 935 296.5 934.5 298.4 934.3 300.2 934.5 302 934.1 303.8 934.5 305.5 935 307.4 934.9 309.4 935.2 310.1 935.5 309.8 935.6 310.2 936.2 312.8 936.3 319.4 936.7 320.5 936.9 321.7 936.6 322.9 936.7 324.1 936.5 325.3 936.8 326.6 936.8 327.9 936.8 329.2 936.8 330.6 936.9 332 936.9 333.4 936.9 334.9 936.8 336.4 936.9 338 936.8 339.6 936.9 341.3 936.7 343 936.8 344.7 937.2 346.5 937.1 348.4 936.9 350.3 937 352.3 936.9 354.3 936.8 356.4 936.9 358.6 937.1 360.8 937.1 363.1 937.1 365.5 937 367.9 936.9 370.4 937.2 373 937.2 375.7 937 378.4 936.8 381.3 936.9 384.2 937.4 387.2 937.1 390.2 937.1 393.4 937.2 396.7 937.2 400 937.2 401.4 937 402.9 937 404.4 937.4 406 937.2 407.6 937.3 409.3 937.1 410.9 937.1 412.7 937.3 414.4 937.4 416.2 937.2 418 937.3 419.9 937.3 421.8 937.2 423.7 937.3 425.7 937.2 427.7 937.1 429.7 937.2 431.7 937 433.8 937.2 435.9 937.2 438 937.1 440.1 937.2 442.3 937.4 444.5 937.3 446.7 937.5 448.9 937.2 451.1 937.1 453.4 937.5 455.7 937.4 457.9 937.5 460.2 937.3 462.6 937.4 464.9 937.4 467.2 937.5 469.6 937.4 471.9 937.5 474.3 937.4 476.7 937.2 479 937.2 481.4 937.5 483.8 937.4 486.2 937.3 488.6 937.3 491 937.3 493.4 937.3 495.8 937.3 498.2 937.3 500.5 937.3 502.9 937.3 505.3 937.4 507.7 937.4 510 937.4 512.4 937.5 514.7 937.5 517 937.2 519.4 937.3 521.7 937.4 524 937.5 526.2 937.3 528.5 937.3 530.8 937.4 533 937.4 535.2 937.6 537.4 937.5 539.6 937.6 541.7 937.4 543.8 937.2 545.9 937.6 548 937.6 550.1 937.6 552.1 937.6 554.1 937.6 556.1 937.4 558 937.6 559.9 937.5 561.8 937.6 563.6 937.6 565.4 937.3 567.2 937.3 568.9 937.6 570.6 937.6 572.3 937.5 573.9 937.6 575.5 937.5 577.1 937.5 578.6 937.6 580 937.6 581.4 937.8 582.8 937.6 584.1 937.8 585.4 937.9 586.6 937.9 587.8 937.8 588.9 937.7 590 937.6 591 937.6" fill="none" stroke="#f4680f" stroke-width="3.1" stroke-linejoin="round" stroke-linecap="butt"/>
<path d="M116.5 936 117.5 936.8 119.2 937.6 119.9 938.1 120.9 938.2 125 938.1 126.3 937.9 127.9 938.1 129.7 938.1 131.6 938 133.8 938 136 937.9 138.4 938.2 140.8 938.3 143.2 938.5 145.6 938.3 147.9 938.2 150.2 938.4 152.3 938.3 154.3 938.2 156.1 938.2 157.7 938.1 159 938.2 163.1 937.7 164 937.1 165.2 936.1 167.1 935.7 169.2 935.2 171.3 935.1 173.4 934.4 175.5 934.3 177.6 934.2 179.7 933.9 181.5 932.9 183.5 932 185.1 930.3 186.6 928.6 188 926.8 189.4 925.8 190.7 924.9 192.8 923.1 194.8 922.5 196.9 922.7 198.9 924.6 199.9 925.9 200.9 927.1 202 928.4 203.5 929.9 205.2 931.6 207.1 932.5 208.7 932.1 210.5 931.6 212.3 931.2 214.2 930.4 216.2 930.6 218.4 929.9 220.5 929.7 222.4 928.6 224.1 927.5 225.7 927 227.2 925.7 228.5 925 230.1 923.5 231.4 921.4 232.6 919.8 233.3 918.5 233.9 915.6 234.5 914.8 235.1 912.5 235.7 909.9 236.1 907.1 236.5 905.4 236.9 903.7 237.3 902.3 237.6 899.4 238 897.1 238.4 894.4 238.8 892.7 239.1 891.3 239.4 888.6 239.7 886.7 240.1 885.2 240.4 883.6 240.7 881.2 241 878.6 241.3 876.1 241.5 874 241.8 872.3 242.1 870.4 242.4 868.3 242.7 866.9 243 864.5 243.2 861.8 243.4 860.7 243.7 858.9 243.9 856.6 244.1 854.1 244.3 851.8 244.5 850.3 244.7 849.5 244.9 847.1 245.1 844.3 245.3 842 245.4 840.6 245.6 839 245.7 837.2 245.9 835.4 246 832.4 246.2 830.7 246.4 827.8 246.5 826 246.7 823.7 246.9 821.4 247 819.6 247.2 817.2 247.3 815.6 247.5 813.9 247.6 812 247.8 808.6 248 805.8 248.2 803.6 248.4 801.8 248.5 800.2 248.6 800 248.8 798.2 249.9 795.3 251.6 795.1 252.3 796.4 253 799.6 253.3 801.2 253.5 802.2 253.8 804.7 254 806.2 254.4 809 254.7 811 254.9 813 255 815.1 255.2 816.9 255.3 818.9 255.5 820.8 255.7 822.8 255.9 824.1 256.1 826.5 256.3 828.2 256.4 831.5 256.6 834 256.8 835.9 257 837.7 257.2 839.8 257.4 842.8 257.6 845.1 257.8 846.4 258 848.7 258.2 849.8 258.4 851.2 258.6 853.8 258.8 855.8 259 857.8 259.2 860.1 259.4 863.3 259.7 864.1 259.9 865.8 260.1 867.8 260.3 869.6 260.5 872 260.8 874.5 261 875.4 261.2 877.5 261.5 879.5 261.7 881.7 262 882.9 262.2 884.5 262.5 886.1 262.7 889.1 263 891.1 263.2 892.8 263.5 893.5 263.8 896.3 264.2 898.6 264.6 900.5 264.9 902.7 265.3 905.6 265.7 907.7 266.1 909.4 266.4 911.3 266.8 912.6 267.2 914.2 267.9 916.8 268.7 919 269.4 920.4 270.2 921.7 271 922.9 272.5 924.7 274.2 926.9 275.9 927.6 278.3 927.7 280.9 927.9 282.9 927.9 285 927 287.1 926.8 288.7 925.9 290.2 924.6 291.8 922.8 293.3 921 294.9 918.7 296.5 917.2 298 916.5 299.5 915.8 301.3 914.4 303 914 304.5 914.1 306.4 915 308.2 916.9 309.3 918.3 310.5 919.7 311.7 922.6 313.1 924.9 314.5 926.1 315.9 927.9 317.5 929.3 319.4 930.6 321.1 931.3 323 931.6 325 932.2 327.1 932.8 329.3 932.8 331.2 933.5 333.1 933.9 335 934.1 337.1 934.3 339.3 934.2 341.7 934.2 343.3 934.2 344.8 934.3 346.3 934.6 347.8 934.8 349.5 935 351.4 934.8 353.6 935.4 356.1 935.7 359.1 935.5 360.4 935.5 361.6 935.6 362.5 935.6 363.4 935.6 364.2 935.6 364.9 935.6 365.7 935.7 366.6 935.8 367.5 935.8 368.7 935.7 370.1 935.8 371.7 935.9 373.7 936 376 935.9 378.7 936 381.8 936.2 385.5 936.2 389.7 936.1 394.5 936.1 400 936.1 401.2 936.3 402.5 936.5 403.9 936.3 405.2 936.1 406.7 936.3 408.2 936.3 409.7 936.1 411.3 936.1 412.9 936.2 414.6 936.4 416.3 936.2 418 936.1 419.8 936.3 421.6 936.2 423.5 936.3 425.4 936.4 427.3 936.3 429.3 936.2 431.2 936.3 433.3 936.3 435.3 936.4 437.4 936.3 439.5 936.5 441.7 936.2 443.8 936.3 446 936.4 448.2 936.5 450.5 936.4 452.7 936.5 455 936.4 457.3 936.5 459.6 936.7 462 936.5 464.3 936.5 466.7 936.4 469 936.6 471.4 936.7 473.8 936.5 476.2 936.3 478.6 936.5 481 936.7 483.5 936.7 485.9 936.7 488.3 936.3 490.8 936.4 493.2 936.7 495.6 936.4 498.1 936.6 500.5 936.9 502.9 936.7 505.3 936.7 507.8 936.6 510.2 936.4 512.6 936.5 515 936.6 517.4 936.6 519.7 936.7 522.1 936.6 524.4 936.6 526.8 936.7 529.1 936.7 531.4 936.9 533.7 936.8 535.9 936.7 538.2 936.6 540.4 936.6 542.6 936.8 544.7 936.8 546.9 936.5 549 936.6 551.1 936.7 553.2 936.6 555.2 936.8 557.2 936.6 559.2 936.7 561.1 936.8 563 936.6 564.9 936.7 566.7 936.7 568.5 936.8 570.2 936.7 571.9 936.8 573.6 936.6 575.2 936.5 576.8 936.8 578.4 936.9 579.8 936.8 581.3 936.7 582.7 936.9 584 936.6 585.3 936.6 586.6 936.8 587.8 936.9 588.9 936.7 590 936.5 591 936.8" fill="none" stroke="#de1e08" stroke-width="3.1" stroke-linejoin="round" stroke-linecap="butt"/>
<path d="M116.5 921.7 116.7 922.9 117 925.3 117.4 928.1 117.8 929.3 118.3 932.3 118.9 934.6 119.8 935.8 120.2 937.5 124.3 937.9 125.6 938.2 127.2 938.3 129 938.5 131.1 938.3 133.3 938.3 135.6 938.5 138 938.4 140.5 938.3 142.9 938.3 145.3 938.4 147.6 938.3 149.8 938.4 151.8 938.4 153.7 938.3 155.2 938.4 156.5 938.1 159.9 937.1 160.1 935.2 161.4 934.3 162.9 932.7 164.4 931.6 165.9 930.4 167.4 928.8 168.9 927.1 170.4 925.7 171.8 924.4 174.1 922.6 176.1 922.7 177.9 923.8 179.7 924.7 181.3 924.3 183 923.9 184.6 923.1 185.7 921.4 186.7 919.5 187.7 918.2 188.7 916.2 189.5 914.3 190.3 912.3 191.2 909.6 192 907.3 192.8 905.8 193.6 903.2 194.5 900.9 195.3 899.1 196.2 897.4 196.9 896.1 198.4 896.8 199.9 899.4 200.5 901.1 201.2 903.3 201.9 905.4 202.6 907.6 203.3 909.1 204 910.8 204.8 913.3 205.6 916.2 206.5 918.9 207.3 919.9 208.1 921.7 209.4 923.2 210.8 924 212.2 924.6 213.8 925 215.6 924.6 217.3 924.2 219 922.9 220.7 922.4 222.4 921.2 223.4 919.5 224.4 917.9 225.5 915.8 226.5 913.7 227.5 912.3 228.8 910.8 230.1 910.9 231.4 908.6 232.6 907 233.2 905.3 233.9 903.6 234.5 902.1 235.1 899.6 235.6 898.1 236.2 895.9 236.7 892.5 237 891.6 237.3 890.4 237.6 888.7 237.9 887.6 238.1 885.2 238.4 883.6 238.7 881.9 239 879.3 239.2 877.8 239.5 874.7 239.7 871.9 240 870 240.1 868.1 240.3 866.7 240.4 864.5 240.6 863.3 240.7 861.3 240.8 860 241 857.6 241.1 856.2 241.2 854.3 241.4 852.4 241.5 850.4 241.6 848.4 241.8 845.8 241.9 843 242 841.8 242.2 839.6 242.3 837.5 242.5 835.8 242.6 832.8 242.7 830.8 242.9 828.8 243 826.5 243.1 825.2 243.2 823.4 243.3 821.2 243.5 819.2 243.6 818 243.7 815.7 243.8 814.1 243.9 812.3 244 809.3 244.1 807.4 244.3 805.9 244.4 804.2 244.5 802.4 244.6 800.5 244.7 798.6 244.8 796 245 793.9 245.1 792.3 245.2 789.9 245.3 788.3 245.4 785.4 245.5 783.9 245.6 781.9 245.8 779 245.9 778 246 776.1 246.1 774 246.2 771.5 246.3 769.6 246.4 768.5 246.5 765.8 246.7 762.4 246.8 761.1 246.9 759.4 247 757.7 247.1 755.8 247.2 753.5 247.3 751.5 247.4 750.2 247.6 747.5 247.7 746.5 247.8 744 247.9 741.4 248 740.1 248.1 738.3 248.2 735.7 248.3 734.3 248.4 731.5 248.5 729.6 248.7 728.7 248.8 726.5 248.9 724 249 722.8 249.1 721.3 249.2 718.9 249.4 715.9 249.5 714 249.6 712.4 249.8 710.5 249.9 708.8 250 705.9 250.2 703.4 250.3 701.4 250.4 699.9 250.6 697.1 250.7 695.7 250.8 692.3 251 691.2 251.1 689.2 251.2 687.5 251.4 685.9 251.5 683.3 251.6 681.8 251.7 680.3 251.9 678.9 252 676.7 252.1 675 252.3 671.6 252.6 670.6 252.8 667.5 253 664.8 253.2 662.1 253.4 661 253.7 658.9 253.8 657.8 254 656.2 254.2 654.3 254.4 653 254.8 648.8 255.2 646.2 255.5 644.6 255.9 643.8 256.2 644.7 256.6 646 256.9 648.6 257.3 649.5 257.7 653.5 257.9 655.2 258 656.9 258.2 658.9 258.4 660.8 258.6 662.5 258.8 664.1 259 666.5 259.2 668.7 259.4 670 259.7 672.6 259.9 674.8 260.1 677.2 260.3 680.3 260.5 683 260.6 684.7 260.8 686 260.9 687.9 261 689.4 261.1 691.7 261.3 693.8 261.4 696.2 261.5 698.1 261.7 699.1 261.8 700.9 261.9 702.8 262.1 705.3 262.2 708.2 262.3 709.9 262.4 710.7 262.6 712.7 262.7 715 262.8 717.8 263 720 263.1 722.2 263.2 725 263.4 726.3 263.5 728 263.6 731 263.7 732.6 263.8 733.8 264 735.1 264.1 737.1 264.2 738.7 264.3 741.6 264.4 743.9 264.5 746.3 264.6 748 264.8 749.6 264.9 751.6 265 754.7 265.1 755.5 265.2 757.9 265.3 760.1 265.4 762.4 265.6 764 265.7 766.3 265.8 768.5 265.9 770.1 266 771.8 266.1 773.8 266.2 775.5 266.3 777.6 266.4 779.5 266.5 781.5 266.6 784.2 266.7 786.5 266.8 787.9 266.9 790.2 267 792.3 267.1 794.5 267.2 796.4 267.3 798.4 267.4 800.2 267.5 802 267.6 804.6 267.7 807 267.8 808.8 267.9 810.6 268 812.4 268.1 814 268.2 815.3 268.3 818 268.4 820 268.5 821.4 268.6 823 268.7 825.6 268.8 826.4 268.9 829.7 269.1 832 269.2 834.7 269.3 835.9 269.5 837.9 269.6 840 269.8 842.3 269.9 844.3 270.1 846.1 270.2 848.7 270.3 850.1 270.5 851.9 270.6 854.2 270.8 855.6 270.9 857.2 271 859.1 271.2 860.5 271.3 861.4 271.6 864.6 271.8 867 272 869.7 272.3 870.4 272.5 872.4 272.8 873.4 273.1 875 273.4 876.9 273.7 879 274.1 881.3 274.5 883.8 275 885.1 275.4 887.6 275.9 889.8 276.3 891.6 276.8 892.7 277.2 894.8 277.9 897.1 278.7 899.4 279.4 901.2 280.1 903.2 280.9 905 282.3 907.1 283.7 907.9 285.1 908.5 286.2 908.2 287.3 906.1 288.4 904.9 289.6 901.6 290.1 900.5 290.7 899.2 291.2 897.8 291.7 895.5 292.3 893 292.8 890.7 293.4 888.3 293.9 886.9 294.5 884.5 295 882.3 295.4 880.7 295.9 878.3 296.4 876.1 296.8 874 297.3 872.7 297.8 870.7 298.2 867.9 298.7 865.1 299.1 863.8 299.5 862.3 300.1 859.8 300.7 857.6 301.2 855.1 301.7 853.5 302.2 851.8 302.7 850 303.2 848.4 305.1 846.1 306.9 846.3 308.4 845.3 309.9 847.1 310.3 848.1 310.6 849.2 311 851.6 311.4 853.5 311.8 855.5 312.2 858 312.6 859.4 313.1 862 313.5 864.1 313.9 866.3 314.3 867.5 314.8 870.1 315.3 872.3 315.7 874.9 316.2 877.1 316.7 879 317.2 881.6 317.6 882.9 318.1 884.3 318.7 886.5 319.2 888.4 319.8 890.8 320.3 892.1 320.9 894.6 321.4 896.9 322 899 322.5 900.3 323.1 902.4 323.9 904.1 324.7 906.2 325.6 907.6 326.4 909.6 327.2 911.3 328 913.6 329.7 915.3 331.4 915.4 333 916.4 334.8 916.3 336.7 915.6 338.6 916.1 340.7 916.9 342.9 917.7 344.4 918 346 919.5 347.6 921.2 349.1 922.5 350.7 923.1 352.2 924 353.8 925.4 355.3 926.9 357.2 928.1 359.2 928.8 361.5 929.7 363.2 930.1 365.1 930.5 367.1 930.6 369.3 930.6 371.5 931.1 373.4 931.6 375.3 931.6 377.3 932 379.4 932.5 381.6 932.6 383.9 932.8 385.5 933.4 386.9 933.5 388.2 933.7 389.6 933.5 391.3 934 393.5 933.7 396.3 933.9 400 934.3 401.4 934.5 402.9 934.2 404.4 934.1 406.1 934.3 407.8 934.1 409.7 934.4 411.5 934.5 413.5 934.4 415.5 934.5 417.6 934.6 419.7 934.6 421.8 934.6 424 934.8 426.2 934.6 428.4 934.6 430.6 934.5 432.8 934.8 435 934.6 437.3 934.7 439.5 934.7 441.6 934.7 443.8 935 445.9 934.8 448 935 450 935 452 935.1 453.9 934.9 455.7 935 457.6 935 459.3 934.9 461.1 934.9 462.8 934.9 464.6 935 466.3 935.2 468 935 469.8 934.7 471.5 934.7 473.3 934.9 475.2 935 477 935.1 479 935.2 481 935.4 483 935.3 485.2 935.3 487.4 935.1 489.7 935.3 492.1 935.5 494.6 935.5 497.2 935.1 500 935.3 501.6 935.6 503.2 935.5 504.9 935.2 506.7 935.2 508.6 935.4 510.5 935.5 512.5 935.3 514.5 935.2 516.6 935.5 518.7 935.3 520.9 935.6 523.1 935.5 525.3 935.5 527.6 935.3 529.9 935.3 532.2 935.6 534.5 935.3 536.9 935.7 539.2 935.4 541.6 935.3 543.9 935.5 546.3 935.6 548.6 935.7 551 935.6 553.3 935.6 555.6 935.6 557.8 935.5 560.1 935.3 562.3 935.7 564.5 935.7 566.6 935.7 568.7 935.6 570.7 935.7 572.7 935.7 574.6 935.7 576.5 935.9 578.3 935.5 580.1 935.7 581.7 935.6 583.3 935.7 584.8 936 586.2 935.7 587.6 935.7 588.8 935.7 590 935.9 591 935.8" fill="none" stroke="#30070a" stroke-width="3.1" stroke-linejoin="round" stroke-linecap="butt"/>
</g>
<g font-size="23.4" text-anchor="end">
<text x="103.4" y="945.4">0</text>
<text x="103.4" y="876.1">500</text>
<text x="103.4" y="806.9">1000</text>
<text x="103.4" y="737.6">1500</text>
<text x="103.4" y="668.4">2000</text>
<text x="103.4" y="599.1">2500</text>
</g>
<g font-size="23.4" text-anchor="middle">
<text x="116.3" y="1003.8">2</text>
<text x="211.2" y="1003.8">4</text>
<text x="306.2" y="1003.8">6</text>
<text x="401.1" y="1003.8">8</text>
<text x="496.1" y="1003.8">10</text>
<text x="591" y="1003.8">12</text>
</g>
<text x="353.4" y="1043.5" font-size="25.4" text-anchor="middle">EM diameter [nm]</text>
<text transform="translate(21.8 856.1) rotate(-90)" font-size="25.4">Particle counts</text>
<text x="246.6" y="633.1" font-size="25.3">D<tspan font-size="16.7" dy="-10.8">+</tspan></text>
<text x="188.8" y="882.2" font-size="25.3">D<tspan font-size="16.7" dy="-10.2">2+</tspan></text>
<text x="289.8" y="832.8" font-size="25.3">[2D]<tspan font-size="16.7" dy="-11.1">+</tspan></text>
<text x="337.4" y="901.2" font-size="25.3">[3D]<tspan font-size="16.7" dy="-11.1">+</tspan></text>
<rect x="508.1" y="549.2" width="164.7" height="101" fill="#fff" stroke="#000" stroke-width="1.4"/>
<line x1="510.5" y1="562.7" x2="555.8" y2="562.7" stroke="#555555" stroke-width="3.5"/>
<text x="560.2" y="568.4" font-size="20">Blank</text>
<line x1="510.5" y1="587" x2="555.8" y2="587" stroke="#f4680f" stroke-width="3.5"/>
<text x="560.2" y="593.2" font-size="20">0.1 µM DNA</text>
<line x1="510.5" y1="611.6" x2="555.8" y2="611.6" stroke="#de1e08" stroke-width="3.5"/>
<text x="560.2" y="617.8" font-size="20">0.5 µM DNA</text>
<line x1="510.5" y1="635.9" x2="555.8" y2="635.9" stroke="#30070a" stroke-width="3.5"/>
<text x="560.2" y="642.1" font-size="20">1.0 µM DNA</text>
<line x1="163.8" y1="1126.7" x2="163.8" y2="1508.5" stroke="#747474" stroke-width="1.6" stroke-dasharray="2.9 1.27"/>
<line x1="211.2" y1="1126.7" x2="211.2" y2="1508.5" stroke="#747474" stroke-width="1.6" stroke-dasharray="2.9 1.27"/>
<line x1="258.7" y1="1126.7" x2="258.7" y2="1508.5" stroke="#747474" stroke-width="1.6" stroke-dasharray="2.9 1.27"/>
<line x1="306.2" y1="1126.7" x2="306.2" y2="1508.5" stroke="#747474" stroke-width="1.6" stroke-dasharray="2.9 1.27"/>
<line x1="353.6" y1="1126.7" x2="353.6" y2="1508.5" stroke="#747474" stroke-width="1.6" stroke-dasharray="2.9 1.27"/>
<line x1="401.1" y1="1126.7" x2="401.1" y2="1508.5" stroke="#747474" stroke-width="1.6" stroke-dasharray="2.9 1.27"/>
<line x1="448.6" y1="1126.7" x2="448.6" y2="1508.5" stroke="#747474" stroke-width="1.6" stroke-dasharray="2.9 1.27"/>
<line x1="496.1" y1="1126.7" x2="496.1" y2="1508.5" stroke="#747474" stroke-width="1.6" stroke-dasharray="2.9 1.27"/>
<line x1="543.5" y1="1126.7" x2="543.5" y2="1508.5" stroke="#747474" stroke-width="1.6" stroke-dasharray="2.9 1.27"/>
<g stroke="#000" stroke-width="2.2" fill="none">
<line x1="116.3" y1="1125.6" x2="116.3" y2="1509.6"/>
<line x1="115.2" y1="1508.5" x2="592.1" y2="1508.5"/>
<line x1="108.3" y1="1476.4" x2="116.3" y2="1476.4"/>
<line x1="108.3" y1="1412.8" x2="116.3" y2="1412.8"/>
<line x1="108.3" y1="1349.3" x2="116.3" y2="1349.3"/>
<line x1="108.3" y1="1285.7" x2="116.3" y2="1285.7"/>
<line x1="108.3" y1="1222.2" x2="116.3" y2="1222.2"/>
<line x1="108.3" y1="1158.6" x2="116.3" y2="1158.6"/>
<line x1="112" y1="1508.2" x2="116.3" y2="1508.2"/>
<line x1="112" y1="1444.6" x2="116.3" y2="1444.6"/>
<line x1="112" y1="1381.1" x2="116.3" y2="1381.1"/>
<line x1="112" y1="1317.5" x2="116.3" y2="1317.5"/>
<line x1="112" y1="1253.9" x2="116.3" y2="1253.9"/>
<line x1="112" y1="1190.4" x2="116.3" y2="1190.4"/>
<line x1="112" y1="1126.8" x2="116.3" y2="1126.8"/>
<line x1="116.3" y1="1508.5" x2="116.3" y2="1516.1"/>
<line x1="163.8" y1="1508.5" x2="163.8" y2="1512.4"/>
<line x1="211.2" y1="1508.5" x2="211.2" y2="1516.1"/>
<line x1="258.7" y1="1508.5" x2="258.7" y2="1512.4"/>
<line x1="306.2" y1="1508.5" x2="306.2" y2="1516.1"/>
<line x1="353.6" y1="1508.5" x2="353.6" y2="1512.4"/>
<line x1="401.1" y1="1508.5" x2="401.1" y2="1516.1"/>
<line x1="448.6" y1="1508.5" x2="448.6" y2="1512.4"/>
<line x1="496.1" y1="1508.5" x2="496.1" y2="1516.1"/>
<line x1="543.5" y1="1508.5" x2="543.5" y2="1512.4"/>
<line x1="591" y1="1508.5" x2="591" y2="1516.1"/>
</g>
<clipPath id="cp3"><rect x="115.8" y="1124.7" width="477" height="383.8"/></clipPath>
<g clip-path="url(#cp3)">
<line x1="375.5" y1="1403.8" x2="355.5" y2="1423.1" stroke="#b17cda" stroke-width="3"/>
<polygon points="342.2,1436 348.7,1416.7 362.3,1429.5" fill="#b17cda"/>
<line x1="431.7" y1="1406.6" x2="411.4" y2="1426.1" stroke="#0202e8" stroke-width="3"/>
<polygon points="398,1438.4 405.2,1419.4 417.7,1432.7" fill="#0202e8"/>
<path d="M116.3 1476.4 L591 1476.2" fill="none" stroke="#555555" stroke-width="3.1" stroke-linejoin="round" stroke-linecap="butt"/>
<path d="M134.5 1470 136.6 1467.7 138.2 1467 140.3 1466.2 142.5 1466 144.7 1464.8 146.7 1464.1 148.8 1463.7 150.8 1463.2 152.9 1462.2 155 1462.2 157.1 1462.4 159.2 1460.7 161.1 1460.8 163.2 1458.2 165.1 1458.3 167.2 1457 169.1 1456.2 171.2 1455.2 173.3 1454.3 175.4 1453.4 177.5 1453.5 179.5 1454.6 181.6 1454.8 183.6 1453.8 185.7 1453.1 187.8 1452.6 189.9 1451.7 191.8 1452.6 194 1451.4 196 1449.6 197.9 1447.5 199.2 1445.3 200.5 1444.4 201.7 1442.4 203 1439.1 204 1438 205 1435.1 206 1433.7 207 1431.3 208.1 1429.9 210.2 1429.1 212.4 1428.6 214.2 1428.8 215.9 1428.9 217.3 1432 218.2 1433.9 219.2 1435.1 220.3 1437.1 221.4 1438.2 223 1439.6 224.7 1439.9 226.5 1441.3 228.5 1442.9 230.6 1444.9 232.6 1445.4 234.4 1444.4 236.2 1442 237.7 1440.3 239.5 1438.2 241.1 1437.1 242.9 1436.2 244.6 1438.7 245.6 1439.5 246.6 1441.6 247.8 1444.1 249.3 1446 251.1 1449.2 252.7 1450.1 254.9 1451.6 256.7 1451.6 257.9 1450.1 259.1 1448.3 259.7 1447.4 260.3 1444.8 261 1442.5 261.6 1439.9 262.3 1437.7 262.8 1435.7 263.4 1433.8 263.9 1432.3 264.4 1430.5 265 1427.7 265.5 1425.1 266 1423.3 266.4 1420.5 266.9 1417.5 267.4 1416.2 267.8 1413.1 268.3 1411.4 268.7 1408.5 269.1 1407.5 269.5 1404.6 269.9 1403.2 270.3 1402 270.7 1398.5 271.2 1396.6 271.5 1394 271.8 1391 272.2 1390 272.5 1388.1 272.9 1385.1 273.3 1381.3 273.7 1379.7 274.1 1377.7 274.5 1375.3 274.9 1373.3 275.3 1370.6 276 1368.5 276.6 1368 277.4 1366.5 278.1 1363.7 278.8 1361.4 279.5 1359.8 280.1 1357.8 280.5 1356 280.8 1353.1 281.2 1351.5 281.5 1349.7 281.9 1348.3 282.2 1346.2 282.5 1343.5 282.9 1341.5 283.2 1338.4 283.5 1336.9 283.8 1333.8 284.1 1331.6 284.4 1329.9 284.6 1326.9 284.9 1324.4 285.1 1321.6 285.4 1320.2 285.6 1318.1 285.9 1315.6 286.1 1313.7 286.3 1310.2 286.6 1308.6 286.8 1306.9 287.1 1304.5 287.3 1303 287.6 1301.3 287.9 1297.8 288.2 1294.8 288.5 1292.5 288.8 1290.6 289 1288.7 289.3 1285.8 289.6 1284.4 289.9 1281.7 290.2 1280.5 290.5 1278.9 291.1 1275.5 291.7 1273.4 292.3 1270 293 1267.9 293.7 1267.1 295.3 1267.2 297 1267.7 298.5 1271.1 298.9 1272.4 299.3 1274.9 299.7 1277.8 300 1279.6 300.3 1281.7 300.6 1284.2 301 1284.7 301.4 1288 302.2 1290.9 303.1 1292.7 304 1294 304.9 1295.4 305.8 1297.5 306.6 1300.1 307.4 1301.4 308.2 1303.7 309 1303.8 309.8 1306.7 310.4 1309.2 311 1311.1 311.6 1312.2 312.2 1314.5 312.8 1318 313.4 1319.4 314 1321.6 314.6 1324.2 315 1326.4 315.3 1329.1 315.7 1331.3 316 1332 316.4 1335.5 316.7 1337.2 317 1339.1 317.4 1342.6 317.7 1344.3 318 1345.6 318.3 1347.9 318.6 1350.2 318.9 1352.2 319.2 1354.7 319.5 1357.7 319.7 1359.8 320 1361 320.3 1365.1 320.5 1366 320.8 1368.2 321 1370.5 321.3 1373.1 321.5 1374.8 321.8 1377.2 322.1 1380.4 322.3 1381.8 322.6 1383 322.8 1385.7 323.1 1387.5 323.4 1389.7 323.6 1392.2 323.9 1394.5 324.1 1396.3 324.4 1398.9 324.6 1400.6 324.9 1401.8 325.2 1405.1 325.5 1407.1 325.8 1410 326.1 1411.5 326.4 1414 326.8 1416.2 327.1 1416.6 327.4 1418.7 327.7 1421.2 328.1 1424.6 328.6 1425.7 329 1429 329.5 1431.9 330 1433.9 330.5 1436 331.1 1437.5 331.6 1439.5 332.2 1441.4 333.2 1444 334.2 1446.3 335.2 1447.7 336.3 1448.8 337.3 1450.1 338.9 1452.1 340.6 1451.8 342.4 1452.2 344.5 1453.3 346.8 1453.8 349.5 1454.4 351.3 1453.5 353.4 1454.8 355.5 1455.7 357.6 1456.6 359.7 1455.7 361.8 1456.3 363.8 1457.1 365.9 1457.4 367.9 1457.9 370 1458.1 372.1 1457.1 374.2 1457.9 376.3 1458 378.3 1457.9 380.2 1459.4 382.4 1459 384.5 1459 386.5 1459.7 388.4 1460.2 390.2 1461.9 391.9 1463 393.6 1464.4 395.5 1465.1 397.6 1465.6 399.8 1466.9 402.1 1467.4 404.7 1468.1 406.5 1468.7 408.5 1469.2 410.5 1470 412.6 1470 414.8 1470.5 417 1470.9 418.9 1470.9 420.9 1471.2 422.9 1471.8 424.9 1472.3 427 1472.6 429.1 1472.9 431.3 1473 433.5 1473.1 435.8 1473.4 438.1 1473.4 440.4 1473.3 442.8 1473.6 445.2 1473.6 447.6 1473.8 449 1473.9 449.3 1474 449.3 1474.1 449.4 1474.1 450.5 1474.1 453 1474 457.6 1474.3 465 1474.3 466.3 1474.4 467.7 1473.9 469.2 1474.1 470.8 1474.4 472.5 1474 474.3 1474.2 476.2 1474.5 478.1 1474.5 480.1 1474.2 482.2 1474.5 484.4 1474.6 486.6 1474.4 488.9 1474.6 491.2 1474.6 493.6 1474.6 496.1 1474.5 498.5 1474.7 501.1 1474.6 503.6 1474.8 506.2 1474.8 508.8 1474.6 511.5 1474.6 514.2 1474.8 516.9 1474.7 519.6 1474.7 522.3 1474.8 525 1474.7 527.7 1474.3 530.4 1474.6 533.2 1474.8 535.9 1474.8 538.6 1474.6 541.3 1474.9 543.9 1474.8 546.6 1474.7 549.2 1474.7 551.8 1474.8 554.3 1474.7 556.8 1474.6 559.3 1475.1 561.7 1475.2 564.1 1475.1 566.4 1475.2 568.6 1475.1 570.8 1474.7 573 1475 575 1475.2 577 1475.1 578.9 1474.6 580.8 1475.1 582.5 1475.3 584.2 1475 585.7 1475 587.2 1475.1 588.6 1475 589.8 1475.2 591 1475" fill="none" stroke="#f5931f" stroke-width="3.1" stroke-linejoin="round" stroke-linecap="butt"/>
<path d="M116.5 1472.2 116.2 1474.3 118.2 1476.1 119.8 1476.4 121.9 1477.1 124.5 1477 127.2 1477.1 129.9 1477.1 132.5 1477.1 134.8 1476.9 136.6 1476.7 139.3 1476.1 140.6 1474.9 141.7 1474.1 143.8 1472.7 145.8 1470.8 148.2 1470.6 150.9 1470.8 153.2 1471.2 155.7 1471.1 158 1471 159.9 1470.2 161.5 1469.2 163.1 1468.2 164.2 1467.1 165.2 1464.2 166.2 1462.5 167.2 1460.3 168.2 1457.6 169.3 1456.4 170.3 1452.6 171.3 1451.4 172.9 1450.1 174.4 1450.7 175.8 1452.2 177.4 1455.2 178.1 1455.8 179 1457.8 179.8 1460.2 180.7 1461.8 181.5 1463.2 182.9 1464.8 184.2 1466 185.6 1466.7 187.5 1468.6 189.7 1468.6 191.6 1467.7 193.7 1467.7 195.8 1467.1 197.9 1466.2 199.9 1465.7 202 1464.2 204.1 1463 206.1 1461.9 208.1 1460.8 209.5 1459.3 210.8 1458 212 1457.5 213.2 1454.5 214 1451.8 214.7 1451.1 215.4 1449.1 216 1446.8 216.7 1444.4 217.3 1442 217.7 1440 218.2 1438.2 218.6 1436 219 1433.8 219.3 1430.6 219.7 1428.1 220.1 1425.3 220.4 1423.4 220.6 1421.8 220.9 1419.2 221.1 1417.6 221.3 1416.8 221.5 1414.4 221.7 1411 221.9 1409 222.1 1407.4 222.3 1404.9 222.5 1402.6 222.7 1400.6 222.8 1398.5 223 1395.7 223.1 1394.4 223.3 1392.3 223.4 1390.2 223.6 1387.8 223.7 1385.1 223.9 1382.9 224 1381.1 224.2 1378.7 224.3 1375.6 224.5 1374.9 224.6 1372.1 224.8 1369.7 224.9 1368 225 1364.8 225.2 1364 225.3 1361.5 225.4 1359.7 225.5 1357.1 225.7 1355.1 225.8 1352.9 225.9 1350.6 226.1 1347.5 226.2 1345.1 226.3 1343.7 226.5 1342.4 226.6 1339.5 226.7 1337.6 226.8 1335.5 227 1333.6 227.1 1331.9 227.3 1328.3 227.4 1326.3 227.6 1323.9 227.8 1321.3 227.9 1318.6 228.1 1316.2 228.3 1313.8 228.5 1311.5 228.6 1311 228.8 1309.1 229 1306.2 229.1 1304.4 229.3 1301.9 229.6 1297.7 229.9 1295.1 230.2 1293.7 230.6 1292.3 230.9 1289.8 231.2 1287.3 231.5 1285.8 232.2 1282.2 233 1279.6 233.7 1279.3 234.4 1280.3 235.2 1282.5 235.9 1285.6 236.3 1287.3 236.7 1289.8 237 1292.7 237.4 1294.5 237.8 1297.8 238.1 1298.9 238.3 1301 238.5 1302.4 238.6 1304.5 238.8 1306.6 239 1308.9 239.1 1311.6 239.3 1313.6 239.5 1316.1 239.6 1318.2 239.7 1320.3 239.8 1321.8 240 1324.4 240.1 1327.1 240.2 1327.9 240.4 1330.4 240.5 1333.3 240.7 1334.3 240.8 1337.1 240.9 1339.6 241.1 1341.3 241.2 1344.7 241.3 1346.9 241.5 1348.7 241.6 1351.3 241.7 1353.7 241.8 1355.9 241.9 1358.1 242 1360.2 242.1 1361.7 242.2 1364.1 242.3 1366.8 242.4 1367.8 242.5 1372 242.6 1373.8 242.7 1375.3 242.8 1377 242.9 1380 243 1382.3 243 1383.9 243.1 1385.8 243.2 1387.4 243.3 1389.1 243.5 1392.3 243.6 1394.7 243.7 1397.5 243.8 1399.4 244 1401.3 244.1 1403.3 244.2 1405.6 244.4 1407.3 244.6 1409.1 244.8 1411 245 1412.8 245.3 1415.2 245.5 1417.9 245.8 1420.1 246.1 1421.9 246.4 1423.4 246.7 1425.3 247 1428.1 247.4 1431.2 247.9 1433.5 248.4 1434.9 248.8 1437.5 249.3 1440.1 249.8 1441.8 250.3 1444.2 250.9 1446.8 251.6 1448.9 252.2 1450.9 252.9 1453.9 253.5 1455.8 254.6 1457.6 255.6 1459.2 256.7 1461.3 258.2 1462.4 259.9 1462.7 261.8 1464.6 263.9 1465.2 266.2 1464.6 268.7 1464.6 271.1 1463.7 273.5 1462.8 275.6 1461.3 277.6 1459.1 278.9 1457.3 280.2 1456.2 281.6 1455.8 283.9 1453.8 286.4 1454.1 288.8 1454.1 291.2 1454.2 292.8 1456 294.4 1458.1 296 1459.2 297.6 1459.9 299.2 1462.1 300.8 1463.1 302.4 1464.7 304 1465.2 305.7 1466.5 307.7 1467.3 309.8 1467.9 312.1 1468.9 314 1469.6 316 1469.9 318.1 1470.1 320.1 1470.7 322.1 1470.4 324 1470.7 326 1470.8 328.1 1471.1 330.5 1471.2 333 1471.2 335.5 1471.4 337.8 1471.5 339.6 1471.5 341.2 1472.3 345.4 1472.6 346.9 1472.5 348.6 1472.3 350.5 1472.9 352.5 1472.9 354.7 1472.6 356.9 1473 359.3 1473.4 361.7 1473.2 364.2 1473.3 366.7 1473.2 369.1 1473.2 371.5 1473.6 373.9 1474.1 376.1 1473.8 378.2 1473.7 380.2 1473.9 382.2 1473.8 384.1 1474 385.9 1474.1 387.8 1473.8 389.7 1473.8 391.7 1474 393.8 1474.3 396 1474.3 398.4 1474.4 401 1474.1 403.8 1474.3 406.8 1474.3 408.5 1474.4 410.2 1474.5 411.9 1474.4 413.6 1474.4 415.3 1474.4 417 1474.6 418.7 1474.5 420.5 1474.5 422.3 1474.7 424.1 1474.6 426 1474.9 427.9 1474.8 429.9 1474.9 432 1474.9 434.2 1474.8 436.4 1474.8 438.8 1474.8 441.2 1474.9 443.7 1475 446.4 1475.3 449.1 1475.1 452 1475.3 455.1 1475.3 458.2 1475 461.5 1474.8 465 1475.2 466.7 1475 468.4 1475.2 470.2 1475.4 472.1 1475.3 474 1475.2 476 1475.2 478.1 1475.3 480.2 1475.3 482.4 1475.2 484.7 1475.2 486.9 1475.5 489.3 1475.3 491.7 1475.4 494.1 1475.2 496.5 1475.2 499 1475.1 501.5 1475.3 504.1 1475.5 506.6 1475.5 509.2 1475.3 511.8 1475.5 514.5 1475.4 517.1 1475.4 519.7 1475.5 522.4 1475.5 525 1475.1 527.7 1475.1 530.3 1475.5 533 1475.5 535.6 1475.8 538.2 1475.5 540.8 1475.4 543.4 1475.7 545.9 1475.6 548.4 1475.8 550.9 1475.7 553.4 1475.5 555.8 1475.6 558.2 1475.4 560.6 1475.4 562.9 1475.4 565.1 1475.5 567.3 1475.6 569.5 1475.5 571.6 1475.6 573.6 1475.5 575.5 1475.7 577.4 1475.2 579.3 1475.4 581 1475.6 582.7 1475.4 584.3 1475.7 585.8 1475.7 587.3 1475.8 588.6 1475.8 589.8 1475.7 591 1475.6" fill="none" stroke="#de1806" stroke-width="3.1" stroke-linejoin="round" stroke-linecap="butt"/>
<path d="M116.5 1459.9 116.7 1461 117 1463.2 117.3 1465.9 117.7 1468.1 118.2 1471.1 118.7 1472.2 119.4 1474.2 121.2 1475.3 122.9 1475.8 125.2 1476.5 127.7 1476.8 130.2 1476.7 132.4 1476.8 134.1 1476.3 135.2 1474.4 135.8 1472.6 136 1469.9 136.2 1467.5 136.6 1466.2 137.8 1464.5 139.2 1463 140.7 1463.2 142.3 1461.4 144.1 1459.2 145.8 1457.9 147.1 1456.3 148.4 1452.9 149.7 1451 150.9 1449.4 152 1450 153.1 1447.4 154.1 1445 155 1443.1 156 1442 157 1439.8 158 1439.7 159.9 1439.9 162.1 1441.8 163.7 1442.1 165.4 1443.5 167.2 1444.4 169.2 1445.2 171.4 1444.8 173.4 1445.8 176.2 1446.6 178.5 1447 179.9 1447.2 181.5 1446.1 183.1 1447.1 185 1448.3 187 1449.3 188.7 1449.6 190.3 1447.2 191.5 1445.5 192.8 1442.6 194 1440.5 195.3 1439.9 196.6 1439.1 197.9 1435.2 198.9 1434.7 200 1433 201 1429.8 202 1428.3 203 1426.5 203.8 1424.7 204.5 1422.2 205.2 1419.3 205.9 1417.9 206.5 1416.6 207.1 1414.6 207.7 1412.7 208.2 1411.5 208.8 1408.6 209.2 1406.9 209.7 1404.7 210.1 1401.5 210.2 1399.5 210.3 1397.8 210.4 1395.8 210.5 1395.1 210.6 1390.6 210.7 1388.9 210.8 1388.9 210.9 1385.7 211 1381.4 211 1379.8 211.1 1376.8 211.2 1374.4 211.3 1372.8 211.4 1371.5 211.5 1368.5 211.6 1365.9 211.7 1363.8 211.8 1361 211.9 1358 212 1356.1 212.2 1354.4 212.3 1352 212.4 1349.4 212.6 1347.3 212.7 1344.4 212.9 1342.3 213 1340.8 213.2 1338.7 213.3 1336.7 213.5 1335.5 213.6 1332.8 213.8 1330.1 213.9 1327 214.1 1324.6 214.3 1323.4 214.4 1320.7 214.6 1319.1 214.7 1316.2 214.8 1314.4 215 1312.4 215.1 1310.8 215.3 1307.9 215.4 1305.3 215.6 1303.5 215.7 1301.3 215.9 1300.1 216 1296.9 216.1 1294 216.3 1291.9 216.4 1290.2 216.6 1288.1 216.7 1286.1 216.9 1282.6 217 1282.7 217.2 1281 217.3 1277.5 217.5 1274.2 217.6 1272.8 217.8 1271 217.9 1266.8 218.1 1265.4 218.3 1262.5 218.5 1261.2 218.7 1259.9 218.8 1257.6 219 1253.5 219.2 1252.7 219.4 1250.9 219.5 1247.8 219.7 1246 219.9 1244.9 220 1241.9 220.2 1239.9 220.3 1237.8 220.5 1237.2 220.8 1232.3 221.1 1231.3 221.3 1228 221.6 1226.5 221.8 1223.1 222.1 1221.1 222.3 1219.8 222.5 1219.3 222.7 1216.6 223.3 1213.3 223.9 1212.1 224.3 1214 224.7 1215.1 225.2 1217.8 225.7 1220.4 226 1223.4 226.3 1224.4 226.6 1226.3 226.9 1230.1 227.2 1231.7 227.5 1234.3 227.8 1236.2 228 1238.4 228.2 1239 228.5 1242.2 228.7 1244.4 228.9 1245.8 229.1 1247.9 229.3 1252 229.6 1254.4 229.8 1255.2 230 1259.3 230.2 1260.4 230.4 1262 230.6 1264.4 230.8 1265.6 231 1266.9 231.2 1269.4 231.4 1273 231.6 1275.5 231.8 1276 232 1279.7 232.2 1282.1 232.3 1284 232.5 1285.8 232.6 1288 232.7 1289.3 232.9 1291.2 233 1293.6 233.1 1296.2 233.3 1299.3 233.4 1300.6 233.5 1304.4 233.7 1305.8 233.8 1307.6 233.9 1310.8 234.1 1313.1 234.2 1314.6 234.4 1316 234.6 1318.3 234.8 1320.4 235 1324.5 235.2 1327.5 235.5 1330.3 235.7 1331.9 235.9 1333.7 236.1 1336.2 236.4 1338.6 236.6 1339.9 236.8 1342.2 237.1 1345.6 237.3 1345.3 237.6 1347.2 237.9 1350 238.2 1353.6 238.5 1356.6 238.8 1357.9 239.1 1360.4 239.4 1362.2 239.7 1364.3 240 1365.7 240.3 1367.8 240.8 1370.5 241.3 1373.6 241.9 1376.9 242.4 1376.5 242.9 1379.2 243.4 1381.3 243.8 1383.7 244.2 1386.2 244.5 1387.9 244.7 1389.5 245 1390.2 245.4 1391.4 245.8 1395.4 246.2 1397.9 246.7 1398.4 247.1 1401.6 247.7 1403.9 248.2 1403.7 248.7 1407.4 249.3 1409.1 250 1412.4 250.7 1413.8 251.3 1415.5 252 1417 252.7 1419.6 253.7 1423.4 254.7 1424.9 255.7 1425.8 256.7 1430 258.8 1433.1 260.7 1433.1 262.3 1431.1 263.9 1428 264.7 1425.9 265.4 1425.2 266.2 1423.8 267.1 1419.7 267.7 1417.9 268.4 1415.9 269.1 1413.7 269.8 1412 270.5 1411 271.1 1407.3 271.7 1405.6 272.3 1403.9 272.8 1400.9 273.4 1398.5 273.9 1395.6 274.3 1394.9 274.7 1392 275.1 1389.3 275.4 1387.5 275.7 1384.7 276.1 1382 276.4 1380.4 276.8 1379.6 277.2 1376.6 277.6 1374.5 278 1371.2 278.5 1368.3 279.2 1368.5 280 1365.8 280.9 1362.4 281.7 1360.9 282.5 1359.2 283 1355.7 283.5 1353.6 284 1352.2 284.4 1349.3 284.9 1347.8 285.3 1345.9 285.7 1343.2 286.1 1340.2 286.4 1337.9 286.7 1335.2 287.1 1333.1 287.4 1331.2 287.7 1328.7 288.1 1327.3 288.6 1326.3 289 1322.1 289.5 1319.8 290 1318.1 290.6 1316.2 291.3 1313.8 292.5 1311 294 1309.9 295.4 1308.5 296.6 1307.9 297.5 1308.1 298.1 1311.1 298.7 1314.1 299.3 1315.5 300.7 1317.1 302.1 1320.2 302.6 1319.4 303 1322.2 303.5 1323.9 304 1325.8 304.5 1328.9 305 1331.8 305.6 1334 306.2 1335.2 306.8 1336.9 307.5 1339.7 308.2 1342.6 308.8 1344.2 309.5 1345.6 310.2 1349.8 310.9 1351 311.6 1353 312.2 1355.2 312.7 1357 313.2 1359.4 313.6 1361.4 314.1 1364 314.5 1365 314.9 1366.5 315.4 1371 315.9 1372.6 316.4 1375.1 316.9 1378 317.4 1380.1 317.9 1381.9 318.3 1383 318.6 1384.6 318.8 1389 318.9 1391.6 318.9 1393.6 319 1394.3 319.3 1395.8 319.7 1398.4 320.2 1400.5 320.7 1403.5 321.4 1405.1 322 1408.8 322.7 1409.9 323.3 1411.6 323.9 1414.7 324.6 1416.8 325.3 1418.1 326 1421.1 326.7 1424.4 327.4 1424.4 328.1 1426.1 329 1428 330 1429.2 330.9 1432.5 331.9 1434.7 333 1436.2 335 1437.5 337.2 1436.6 339.4 1438.3 341.5 1439.4 343.5 1439.9 345.4 1441.3 346.7 1444.2 348 1445.8 349.2 1449.1 350.5 1450.3 352.2 1450 353.9 1452.8 355.7 1455.1 357.6 1455.7 359.7 1455.8 361.8 1458.6 364.1 1458 366.5 1458.7 368.9 1458.5 371.3 1459.5 373.6 1460.4 376.1 1462.7 378.1 1463.5 380.1 1462.6 382.2 1461.8 384.3 1462.5 386.3 1463.4 388.3 1462.9 390.4 1463.3 392.4 1464.6 394.4 1465.9 396.4 1466.5 398.4 1467.4 400.6 1467.4 402.5 1467.2 404.4 1468.5 406.5 1468.7 408.6 1469.1 410.8 1469.3 412.7 1469.8 414.7 1469.6 416.8 1470.4 418.9 1470.3 421 1470.5 423.1 1470.8 425.2 1471.2 427.2 1471.3 429.3 1470.9 431.3 1471.4 433.4 1472.6 435.4 1472.7 437.4 1472.8 439.3 1473.1 441.2 1473 443.2 1473.1 445.3 1473.2 447.6 1473.8 449.5 1473.9 451.6 1474.3 453.8 1474.2 456.1 1474.5 458.4 1474.3 460.7 1473.8 462.9 1474.4 465 1474.2 467.3 1474.2 469.5 1473.8 471.6 1473.3 473.7 1473.1 475.8 1472.6 477.9 1472.2 480 1472.2 482.1 1472.4 484 1472.4 485.9 1472.9 487.9 1473.4 490 1474.1 492.3 1474.3 495 1473.9 496.9 1474 498.9 1473.8 501.1 1473.8 503.4 1473.6 505.7 1473.3 508.1 1473.3 510.5 1472.9 512.9 1473.1 515.3 1473 517.7 1472.7 520 1472.8 522.3 1473.1 524.6 1472.9 527 1473.2 529.3 1473.5 531.6 1473.8 534 1473.3 536.3 1473.5 538.5 1473.8 540.8 1474.2 542.9 1474 545 1474 547.5 1473.4 549.9 1473.3 552.2 1473.8 554.5 1473.3 556.7 1473.5 558.9 1472.8 561 1472.4 563 1472 565 1472.4 567.4 1472.6 569.8 1473.2 572 1473.1 574.1 1473 576.2 1472.9 578.1 1473.4 580 1473.8 582.6 1473.9 585.2 1473.8 587.6 1473.6 589.6 1473.2 591 1473" fill="none" stroke="#b17cda" stroke-width="3.1" stroke-linejoin="round" stroke-linecap="butt"/>
<path d="M116.5 1423.1 116.6 1423.4 116.6 1427.3 116.7 1429.1 116.8 1429.8 117 1433.1 117.1 1436 117.2 1439.3 117.4 1442.4 117.5 1441.2 117.7 1445.3 117.8 1449.2 118 1450.2 118.3 1451.3 118.5 1455.3 118.8 1458.3 119.1 1460.5 119.4 1461.4 119.8 1463.5 120.5 1467 121.4 1469.8 122.3 1472.5 123.3 1473.5 124.9 1474.5 126.6 1474.7 128.4 1475.9 131.3 1476.9 133.7 1476.6 134.3 1475 134.5 1473.5 134.7 1470.4 134.8 1468.3 135 1466.5 135.1 1464.3 135.2 1462.7 135.3 1459.5 135.4 1456.9 135.5 1455.1 135.6 1450.8 135.7 1448.7 135.9 1447 136 1445.9 136.2 1442.2 136.5 1441.3 136.8 1440 138.6 1436.1 139.2 1433.3 139.6 1430.9 139.9 1430 140.3 1428.7 142.4 1427.5 143.6 1424.7 144.9 1426.4 146.2 1426.7 147.8 1425.2 149.1 1423.2 150.5 1421 151.9 1417 152.7 1416.3 153.5 1413.7 154.4 1411.2 155.2 1409.9 156 1408.8 157 1406.7 158 1404.5 159.1 1402.1 160.1 1401.6 162.2 1399.7 164.2 1398.8 165.8 1401.1 167.2 1405 167.9 1405.4 168.6 1406.3 169.4 1410.2 170.3 1412.8 171.9 1412.2 173.6 1412.3 175.4 1413.4 177.1 1417.1 178.8 1416.8 180.5 1417.9 183.1 1418.8 185.6 1417.6 187.7 1418.5 189.7 1418.7 191.1 1419.1 192.4 1417.7 193.8 1417.6 195.9 1415 197.9 1413.5 199.3 1412.1 200.7 1410.6 202 1410.8 203.1 1407.7 204.1 1406 205 1404.2 206 1400.4 206.7 1398.4 207.1 1395.7 207.4 1393.3 207.8 1391 208.1 1389.2 209.6 1387.9 209.8 1388.1 210.1 1385.2 210.3 1383.2 210.6 1381.7 210.9 1378.4 211.2 1375.8 211.5 1373.6 211.8 1371.1 212.2 1369.6 212.5 1365.7 214.4 1366.8 216.2 1365.6 216.4 1362.2 216.6 1361 216.8 1358.8 216.9 1357.7 217 1354.5 217.1 1352.1 217.2 1350.9 217.4 1348.7 217.6 1345.4 217.8 1343.6 218 1341.8 218.3 1339.9 218.6 1337.8 218.9 1335.4 219.1 1334.1 219.4 1330 219.7 1327.9 220 1326.3 220.3 1323.5 220.5 1320.6 220.7 1318.7 220.8 1317.2 221 1316.2 221.1 1313.1 221.3 1310.5 221.4 1308.8 221.6 1306.2 221.7 1302.2 221.9 1301.3 222 1299.1 222.1 1296.4 222.3 1295 222.4 1292.5 222.6 1289.5 222.7 1285.6 222.8 1283.4 223 1282.8 223.1 1281 223.2 1279.1 223.3 1276.7 223.4 1273.7 223.6 1270.5 223.7 1268 223.8 1266.6 223.9 1263.7 224.1 1262.8 224.2 1259.4 224.3 1256.3 224.5 1255.6 224.6 1252.8 224.8 1253.6 224.9 1250.7 225.3 1247.5 225.7 1245.1 226.2 1242.5 226.6 1239.8 227.1 1237.9 227.5 1238.6 227.8 1237.6 228.1 1236.5 228.3 1231.5 228.5 1229.9 228.7 1227.7 228.9 1226.2 229.1 1223.4 229.3 1222.4 230 1219.4 230.8 1216.7 231.5 1216.7 231.9 1216.8 232.2 1220.1 232.5 1221.5 232.8 1225.6 233.2 1224.4 234.5 1225.4 235.9 1227.8 236.1 1229.5 236.2 1232.2 236.4 1234 236.5 1235.2 236.7 1238.5 236.8 1238.5 237 1240.5 237.1 1245 237.3 1247.1 237.4 1247.2 237.6 1251 237.8 1252.8 237.9 1257.1 238.1 1259.8 238.3 1260.3 238.5 1263.5 238.6 1264.3 238.8 1267.3 239 1269.6 239.2 1271.1 239.4 1271.9 239.6 1274.6 239.8 1275.4 240 1278.5 240.2 1280 240.4 1284.5 240.6 1285.6 240.8 1285.9 241 1290.3 241.2 1293.2 241.4 1294.6 241.6 1298.9 241.8 1300.7 242 1302 242.2 1303.5 242.4 1303.6 242.5 1308.2 242.7 1311.9 242.9 1312.9 243.1 1314 243.3 1317.2 243.5 1318.4 243.7 1321.5 243.9 1324.8 244.1 1328 244.3 1329.6 244.6 1331.5 244.8 1334.4 245 1337.4 245.2 1338.4 245.5 1339.4 245.7 1341.8 245.9 1343.7 246.1 1346 246.4 1348.9 246.6 1351.6 246.8 1353.5 247.1 1355.9 247.4 1357.9 247.7 1360.8 248 1363.7 248.2 1365.9 248.5 1368.6 248.8 1369.4 249.1 1370.9 249.4 1374.6 249.7 1375.9 250.1 1378.1 250.4 1379.9 250.8 1383.2 251.2 1384.7 251.6 1386 251.9 1388.7 252.3 1390.6 252.7 1393.4 253.3 1395.2 253.9 1397.4 254.6 1399.1 255.2 1401.1 255.9 1402.1 257.2 1405.8 258.5 1406.3 259.9 1408.2 261.9 1409.9 263.9 1410.9 264.8 1409.5 265.6 1407.7 266.4 1404.8 267.1 1401.8 267.6 1399.5 268.1 1398.2 268.6 1396.3 269 1394.4 269.5 1391.6 269.7 1390.4 269.9 1387.7 270.2 1384.8 270.4 1382.1 270.6 1380.7 270.9 1378.9 271.1 1378 271.3 1374.5 271.5 1373 271.8 1371.2 272 1366.4 272.2 1365.3 272.5 1363.5 272.7 1361.2 272.9 1357.6 273.1 1355.6 273.4 1352.3 273.6 1349.9 273.8 1348 274.1 1347.5 274.3 1344.6 274.5 1343.5 275.3 1340 276 1338 276.9 1336.3 277.3 1335.3 277.6 1332.4 278 1331.2 278.4 1328.2 278.8 1325.4 279.2 1323.8 279.7 1321.1 280.1 1317.7 280.4 1315 280.7 1314.1 281.1 1312.5 281.4 1309.6 281.8 1307.5 282.2 1303.8 282.5 1302.5 282.9 1300.8 283.2 1298.5 283.5 1295.7 283.8 1294.3 284.1 1293 285 1291.1 285.7 1290 286.5 1286.8 286.7 1284.4 287 1283.6 287.2 1282.3 287.5 1278.7 287.8 1276.8 288 1274.3 288.3 1271.3 288.6 1267.6 288.9 1267.3 289.2 1262.6 289.4 1261.1 289.7 1259 290 1257.7 290.3 1254.5 290.7 1252.3 291 1250.8 291.3 1248.7 291.6 1245.7 291.9 1244.3 292.3 1242.2 292.6 1240.2 292.9 1236.5 293.1 1234.6 293.4 1232.4 293.6 1229.8 293.8 1228.5 294 1226.7 294.3 1225.4 294.5 1221.9 294.7 1219.7 295 1218.3 295.2 1215.1 295.4 1212.7 295.6 1210.6 295.9 1207.7 296.1 1205.2 296.4 1204.4 296.6 1201.7 296.9 1198.7 297.2 1195 297.5 1193.3 297.7 1192.1 298 1188 298.3 1185.3 298.5 1184.9 298.8 1183.8 299.1 1182.2 299.3 1178.9 300.2 1174.8 301 1171.8 301.8 1171.9 302.6 1172.7 303.4 1175.7 304.2 1180.1 304.7 1181.8 305.1 1183.7 305.6 1186.5 306.1 1189 306.6 1189.7 308 1188.4 309.5 1186.7 310.2 1188.4 310.9 1187.2 311.6 1189.1 312.2 1192 312.6 1195.7 312.9 1199.9 313.2 1201 313.5 1202.9 313.9 1206.2 314.2 1205.7 314.6 1208.5 315.4 1208.8 316.2 1212.1 317 1213.8 317.8 1216 318.1 1218.6 318.4 1220.3 318.7 1224 319 1226.1 319.3 1228.8 319.6 1233.2 319.9 1233.6 320.2 1235.8 321 1237.2 321.8 1240.2 322.6 1242.1 323.4 1243.5 323.8 1245.6 324.1 1247.9 324.5 1249.6 324.8 1250.2 325.1 1251.9 325.5 1255.5 325.8 1256.7 326 1258.3 326.1 1261.4 326.3 1263.7 326.4 1267 326.6 1269.6 326.8 1270.6 326.9 1272.7 327.1 1273.7 327.2 1276.5 327.4 1279.6 327.6 1281.6 327.8 1283.9 327.9 1286.5 328.1 1287.3 328.3 1288.9 328.7 1290.8 329.1 1295.3 329.5 1296.2 329.9 1296.8 330.3 1300.5 330.7 1302.3 331.1 1305.4 331.5 1307.4 331.7 1310.9 331.9 1312.3 332 1313.4 332.2 1315.4 332.3 1317.4 332.5 1320.4 332.6 1324.1 332.8 1324.7 332.9 1325.8 333.1 1329.4 333.2 1332.6 333.4 1332.7 333.5 1334.7 333.7 1336.7 333.9 1339.7 334.2 1342.8 334.6 1344.1 334.9 1345.6 335.3 1349.1 335.6 1349.2 336 1352.7 336.4 1354.7 336.7 1358.2 337.1 1360.2 337.4 1360.7 337.8 1362.7 338.1 1365 338.4 1366.9 338.8 1369.7 339.1 1372.9 339.4 1373.2 339.7 1375.7 340 1379.4 340.3 1381.1 340.7 1382.1 341 1383.8 341.3 1385.7 341.6 1386.9 341.9 1390.8 342.4 1392.7 342.9 1393.9 343.5 1395.4 344.2 1398.4 344.9 1400.9 345.7 1404.9 346.5 1405.6 347.6 1407.4 348.8 1410 350.1 1411.5 351.3 1412.1 352.6 1411.8 353.8 1416.1 355 1418.4 356.2 1419.2 357.4 1421 358.7 1422.1 360.4 1423.6 362.2 1424.7 364.1 1427.6 365.9 1429.6 367.7 1430.7 369.5 1432.4 371.3 1433.6 373 1434.5 374.6 1434.9 376.1 1437.3 377.6 1439.5 379.2 1440.2 381.5 1441 383.9 1439.7 386.3 1438.9 388.8 1441.2 391.3 1440.9 393.5 1441.9 395.3 1443.1 396.9 1444.6 398.6 1446.2 400.1 1447.3 401.6 1447.8 403.2 1452.2 404.7 1453.3 406.2 1452.5 407.8 1454.2 409.3 1455.5 410.8 1456.8 413.4 1456 415.9 1458.5 417.5 1461.3 419.1 1461.5 421.1 1463.2 422.9 1464.4 425 1464.3 427.1 1466.4 429.2 1466.2 431.2 1467.2 433.2 1468.3 435.2 1469.8 437.4 1470.1 439.3 1470.4 441.4 1470.5 443.6 1471.2 445.7 1471.7 447.6 1472.3 449.8 1472.9 451.8 1473.1 453.7 1473 455.8 1473 457.9 1473.4 460 1472.8 462.3 1472.2 465 1472.6 466.8 1472.8 468.9 1472.5 471 1472.3 473.3 1472.2 475.5 1472.9 477.8 1472.8 480 1473.3 482.1 1473 484 1473.4 485.9 1473.8 487.9 1474 490 1474.2 492.3 1474.4 495 1474.1 496.9 1474 498.9 1474.3 501.1 1474.9 503.4 1474.6 505.7 1474.1 508.1 1474.1 510.5 1474.2 512.9 1474.6 515.3 1474.2 517.7 1474.3 520 1474.3 522.3 1474.1 524.7 1474 527.1 1474.2 529.5 1474.1 531.9 1474.5 534.3 1474 536.6 1474.7 538.9 1474.9 541.1 1474.8 543.1 1475.1 545 1474.9 547.7 1474.1 550 1474.2 552.1 1474.3 554.1 1473.8 556 1473.4 557.9 1473.7 560 1473.8 562.1 1473.6 564.3 1473.6 566.4 1473.7 568.5 1473.8 570.6 1474.1 572.8 1474.6 575 1474.1 577.4 1474.2 580 1474.8 582.6 1474.6 585.2 1474.4 587.6 1474.5 589.5 1474 591 1474.2" fill="none" stroke="#0202e8" stroke-width="3.1" stroke-linejoin="round" stroke-linecap="butt"/>
</g>
<g font-size="23.4" text-anchor="end">
<text x="103.4" y="1483.6">0</text>
<text x="103.4" y="1420">200</text>
<text x="103.4" y="1356.5">400</text>
<text x="103.4" y="1292.9">600</text>
<text x="103.4" y="1229.4">800</text>
<text x="103.4" y="1165.8">1000</text>
</g>
<g font-size="23.4" text-anchor="middle">
<text x="116.3" y="1539.2">2</text>
<text x="211.2" y="1539.2">4</text>
<text x="306.2" y="1539.2">6</text>
<text x="401.1" y="1539.2">8</text>
<text x="496.1" y="1539.2">10</text>
<text x="591" y="1539.2">12</text>
</g>
<text x="353.4" y="1578.9" font-size="25.4" text-anchor="middle">EM diameter [nm]</text>
<text transform="translate(21.8 1392) rotate(-90)" font-size="25.4">Particle counts</text>
<text x="127.2" y="1162.6" font-size="25.3">Mn clusters</text>
<text x="216.9" y="1200.3" font-size="25.3">D<tspan font-size="16.4" dy="-11.1">+</tspan></text>
<text x="294.1" y="1155.6" font-size="25.3">P<tspan font-size="16.4" dy="-11.1">+</tspan></text>
<line x1="146.3" y1="1169.2" x2="159" y2="1389.4" stroke="#000" stroke-width="1.3"/>
<rect x="334.2" y="1071" width="349.4" height="128" fill="#fff" stroke="#000" stroke-width="1.6"/>
<line x1="336.9" y1="1084.2" x2="381.6" y2="1084.2" stroke="#555555" stroke-width="3.5"/>
<text x="386.7" y="1091" font-size="20">Blank</text>
<line x1="336.9" y1="1108.6" x2="381.6" y2="1108.6" stroke="#f5931f" stroke-width="3.5"/>
<text x="386.7" y="1115.3" font-size="20"><tspan font-style="italic">M. tuberculosis</tspan> MntR</text>
<line x1="336.9" y1="1133" x2="381.6" y2="1133" stroke="#de1806" stroke-width="3.5"/>
<text x="386.7" y="1139.7" font-size="20">DNA</text>
<line x1="336.9" y1="1157.7" x2="381.6" y2="1157.7" stroke="#b17cda" stroke-width="3.5"/>
<text x="386.7" y="1164.2" font-size="20"><tspan font-style="italic">M. tuberculosis</tspan> MntR/DNA</text>
<line x1="336.9" y1="1182.2" x2="381.6" y2="1182.2" stroke="#0202e8" stroke-width="3.5"/>
<text x="386.7" y="1188.7" font-size="20"><tspan font-style="italic">M. tuberculosis</tspan> MntR/DNA/MnCl<tspan font-size="13" dy="4.5">2</tspan></text>
</svg>
</body></html>
